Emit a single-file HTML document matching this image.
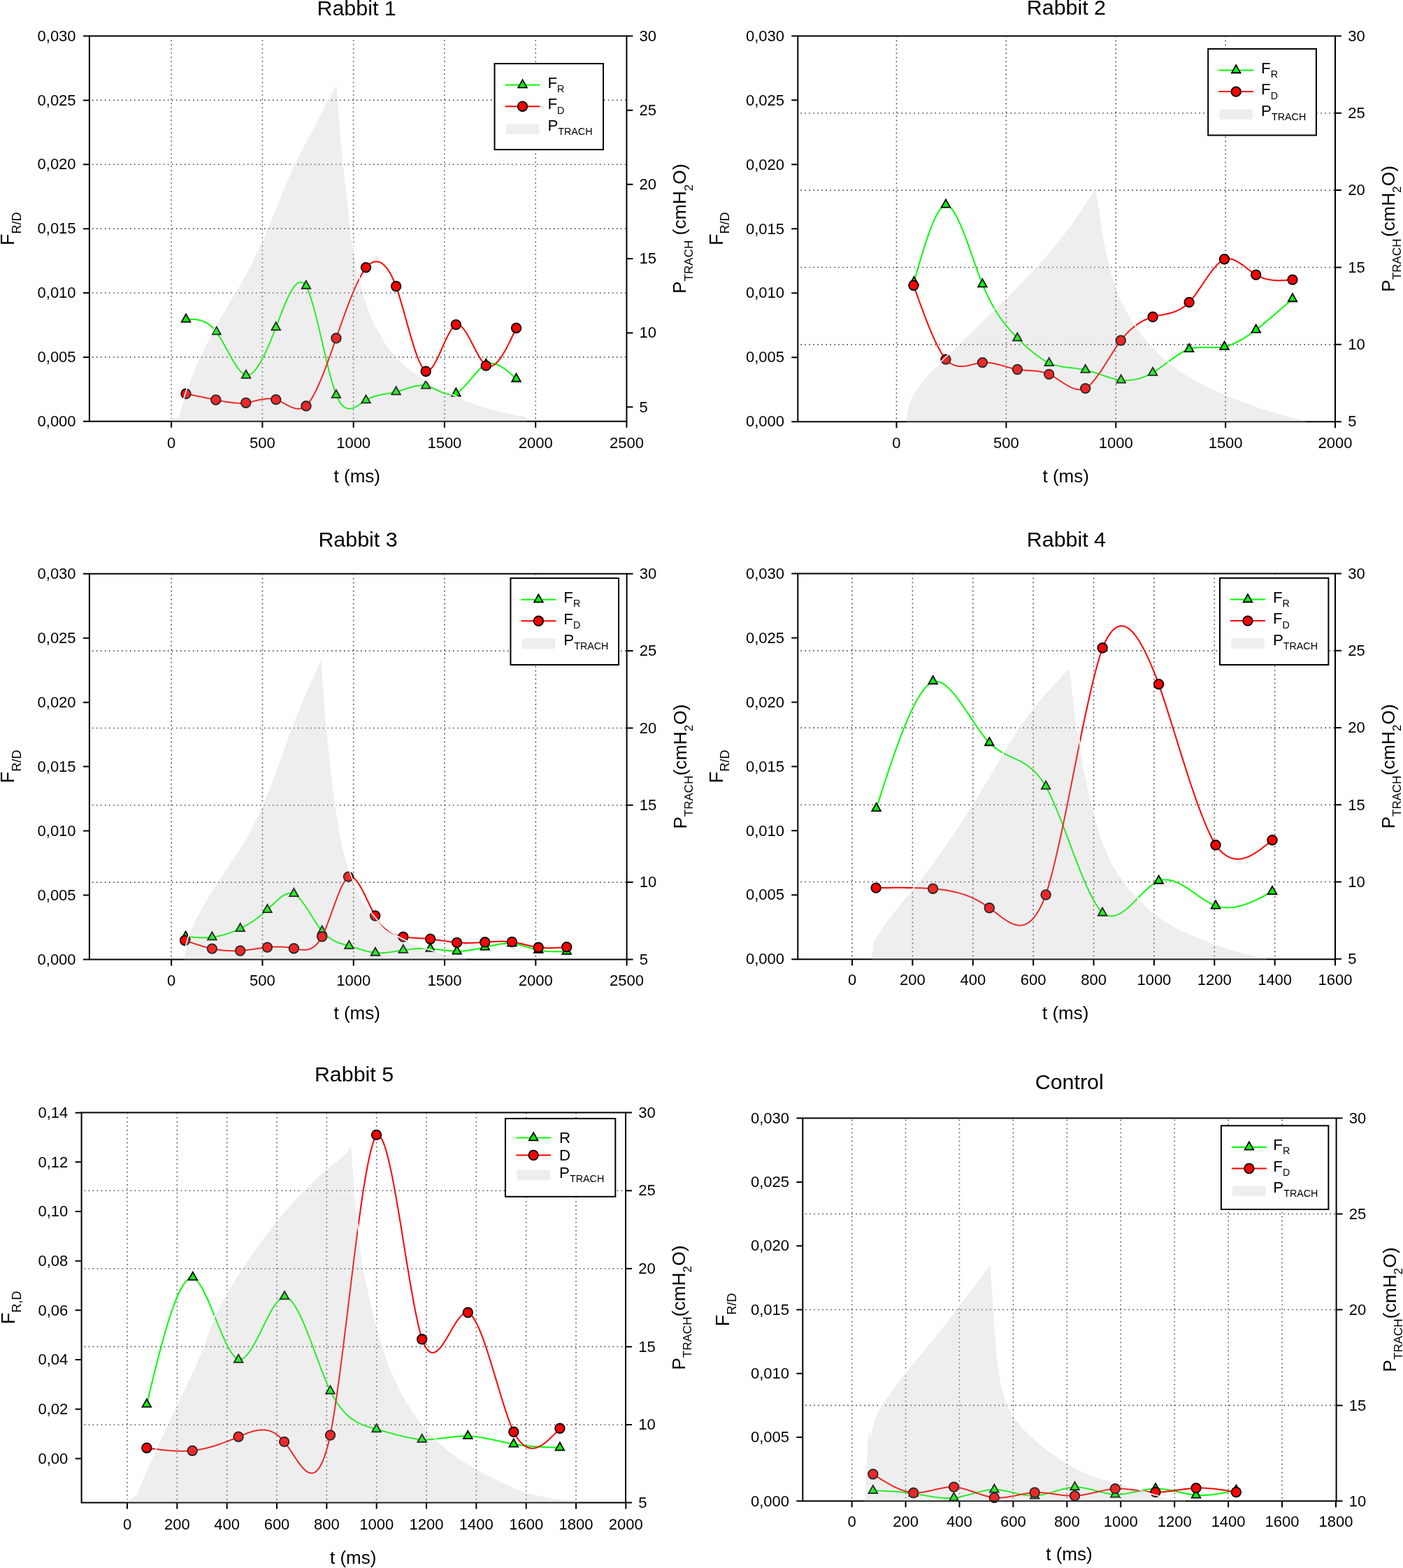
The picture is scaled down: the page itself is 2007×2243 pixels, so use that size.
<!DOCTYPE html>
<html><head><meta charset="utf-8"><title>Rabbit F_R/F_D and P_TRACH</title>
<style>html,body{margin:0;padding:0;background:#fff;}svg{display:block;}</style>
</head><body>
<svg xmlns="http://www.w3.org/2000/svg" width="2007" height="2243" viewBox="0 0 2007 2243" font-family='"Liberation Sans", Arial, Helvetica, sans-serif' fill="#000">
<rect width="100%" height="100%" fill="#fff"/>
<path d="M245.13 598.8 V52.5 M375.38 598.8 V52.5 M505.64 598.8 V52.5 M635.89 598.8 V52.5 M766.15 598.8 V52.5 M131.9 510.92 H895.4 M131.9 419.03 H895.4 M131.9 327.15 H895.4 M131.9 235.27 H895.4 M131.9 143.38 H895.4" stroke="#4a4a4a" stroke-width="1.6" stroke-dasharray="1.6 4.4" fill="none"/>
<path d="M266 456.8 L267.81 456.75 L269.62 456.71 L271.44 456.69 L273.25 456.69 L275.06 456.73 L276.88 456.8 L278.69 456.93 L280.5 457.11 L282.31 457.36 L284.12 457.69 L285.94 458.09 L287.75 458.59 L289.56 459.18 L291.38 459.88 L293.19 460.7 L295 461.64 L296.81 462.71 L298.62 463.93 L300.44 465.29 L302.25 466.8 L304.06 468.49 L305.88 470.34 L307.69 472.38 L309.5 474.6 L311.27 477.15 L313.04 479.86 L314.81 482.72 L316.58 485.7 L318.35 488.78 L320.12 491.94 L321.9 495.16 L323.67 498.41 L325.44 501.67 L327.21 504.92 L328.98 508.15 L330.75 511.31 L332.52 514.4 L334.29 517.4 L336.06 520.27 L337.83 523 L339.6 525.57 L341.38 527.95 L343.15 530.13 L344.92 532.07 L346.69 533.76 L348.46 535.18 L350.23 536.3 L352 537.1 L353.78 537.02 L355.56 536.61 L357.34 535.88 L359.12 534.84 L360.9 533.51 L362.68 531.9 L364.45 530.01 L366.23 527.87 L368.01 525.48 L369.79 522.85 L371.57 520 L373.35 516.95 L375.13 513.69 L376.91 510.25 L378.69 506.64 L380.47 502.86 L382.25 498.94 L384.02 494.87 L385.8 490.69 L387.58 486.39 L389.36 481.99 L391.14 477.5 L392.92 472.93 L394.7 468.3 L396.5 463.61 L398.3 458.89 L400.1 454.18 L401.9 449.51 L403.7 444.9 L405.5 440.38 L407.3 435.99 L409.1 431.75 L410.9 427.7 L412.7 423.86 L414.5 420.26 L416.3 416.93 L418.1 413.91 L419.9 411.21 L421.7 408.88 L423.5 406.94 L425.3 405.41 L427.1 404.34 L428.9 403.75 L430.7 403.66 L432.5 404.11 L434.3 405.13 L436.1 406.75 L437.9 409 L439.69 412.77 L441.48 417.14 L443.27 422.07 L445.07 427.5 L446.86 433.37 L448.65 439.66 L450.44 446.29 L452.23 453.23 L454.02 460.43 L455.82 467.83 L457.61 475.38 L459.4 483.04 L461.19 490.76 L462.98 498.48 L464.77 506.16 L466.57 513.75 L468.36 521.2 L470.15 528.45 L471.94 535.47 L473.73 542.19 L475.52 548.58 L477.32 554.57 L479.11 560.13 L480.9 565.2 L482.67 569.09 L484.45 572.48 L486.22 575.39 L488 577.85 L489.77 579.89 L491.55 581.53 L493.32 582.8 L495.1 583.72 L496.88 584.32 L498.65 584.63 L500.43 584.67 L502.2 584.47 L503.97 584.06 L505.75 583.45 L507.52 582.68 L509.3 581.78 L511.07 580.76 L512.85 579.66 L514.62 578.49 L516.4 577.3 L518.17 576.09 L519.95 574.91 L521.73 573.77 L523.5 572.7 L525.3 571.63 L527.09 570.65 L528.89 569.76 L530.68 568.95 L532.48 568.22 L534.27 567.55 L536.07 566.95 L537.87 566.4 L539.66 565.91 L541.46 565.46 L543.25 565.05 L545.05 564.68 L546.85 564.33 L548.64 564 L550.44 563.69 L552.23 563.39 L554.03 563.09 L555.83 562.79 L557.62 562.48 L559.42 562.16 L561.21 561.81 L563.01 561.44 L564.8 561.04 L566.6 560.6 L568.38 560.14 L570.15 559.63 L571.93 559.1 L573.7 558.54 L575.48 557.97 L577.25 557.38 L579.02 556.79 L580.8 556.19 L582.58 555.61 L584.35 555.03 L586.12 554.48 L587.9 553.95 L589.68 553.45 L591.45 552.99 L593.23 552.57 L595 552.2 L596.78 551.89 L598.55 551.64 L600.33 551.46 L602.1 551.35 L603.88 551.33 L605.65 551.39 L607.43 551.54 L609.2 551.8 L611 552.25 L612.79 552.79 L614.59 553.41 L616.38 554.1 L618.18 554.85 L619.98 555.65 L621.77 556.47 L623.57 557.32 L625.36 558.17 L627.16 559.01 L628.95 559.83 L630.75 560.62 L632.55 561.36 L634.34 562.04 L636.14 562.65 L637.93 563.18 L639.73 563.61 L641.52 563.93 L643.32 564.12 L645.12 564.18 L646.91 564.09 L648.71 563.84 L650.5 563.41 L652.3 562.8 L654.09 561.78 L655.88 560.57 L657.66 559.19 L659.45 557.67 L661.24 556.02 L663.02 554.24 L664.81 552.37 L666.6 550.42 L668.39 548.39 L670.17 546.32 L671.96 544.21 L673.75 542.08 L675.54 539.95 L677.33 537.84 L679.11 535.75 L680.9 533.72 L682.69 531.74 L684.48 529.85 L686.26 528.06 L688.05 526.37 L689.84 524.82 L691.62 523.41 L693.41 522.17 L695.2 521.1 L697 520.48 L698.81 520.05 L700.61 519.8 L702.42 519.73 L704.22 519.82 L706.03 520.07 L707.83 520.46 L709.63 521 L711.44 521.67 L713.24 522.47 L715.05 523.38 L716.85 524.4 L718.65 525.52 L720.46 526.72 L722.26 528.02 L724.07 529.38 L725.87 530.81 L727.67 532.3 L729.48 533.84 L731.28 535.43 L733.09 537.04 L734.89 538.68 L736.7 540.34 L738.5 542" stroke="#00ff00" stroke-width="2.0" fill="none" stroke-linejoin="round"/>
<polygon points="266,449.33 259.7,460.53 272.3,460.53" fill="#00ff00" stroke="#000" stroke-width="1.8"/>
<polygon points="309.5,467.13 303.2,478.33 315.8,478.33" fill="#00ff00" stroke="#000" stroke-width="1.8"/>
<polygon points="352,529.63 345.7,540.83 358.3,540.83" fill="#00ff00" stroke="#000" stroke-width="1.8"/>
<polygon points="394.7,460.83 388.4,472.03 401,472.03" fill="#00ff00" stroke="#000" stroke-width="1.8"/>
<polygon points="437.9,401.53 431.6,412.73 444.2,412.73" fill="#00ff00" stroke="#000" stroke-width="1.8"/>
<polygon points="480.9,557.73 474.6,568.93 487.2,568.93" fill="#00ff00" stroke="#000" stroke-width="1.8"/>
<polygon points="523.5,565.23 517.2,576.43 529.8,576.43" fill="#00ff00" stroke="#000" stroke-width="1.8"/>
<polygon points="566.6,553.13 560.3,564.33 572.9,564.33" fill="#00ff00" stroke="#000" stroke-width="1.8"/>
<polygon points="609.2,544.33 602.9,555.53 615.5,555.53" fill="#00ff00" stroke="#000" stroke-width="1.8"/>
<polygon points="652.3,555.33 646,566.53 658.6,566.53" fill="#00ff00" stroke="#000" stroke-width="1.8"/>
<polygon points="695.2,513.63 688.9,524.83 701.5,524.83" fill="#00ff00" stroke="#000" stroke-width="1.8"/>
<polygon points="738.5,534.53 732.2,545.73 744.8,545.73" fill="#00ff00" stroke="#000" stroke-width="1.8"/>
<path d="M266 563.3 L267.78 563.66 L269.57 564.01 L271.35 564.37 L273.13 564.72 L274.92 565.08 L276.7 565.44 L278.48 565.79 L280.27 566.15 L282.05 566.51 L283.83 566.87 L285.62 567.23 L287.4 567.59 L289.18 567.95 L290.97 568.31 L292.75 568.67 L294.53 569.04 L296.32 569.4 L298.1 569.77 L299.88 570.14 L301.67 570.51 L303.45 570.88 L305.23 571.25 L307.02 571.62 L308.8 572 L310.59 572.36 L312.38 572.72 L314.16 573.07 L315.95 573.43 L317.74 573.77 L319.52 574.11 L321.31 574.43 L323.1 574.74 L324.89 575.04 L326.68 575.32 L328.46 575.58 L330.25 575.82 L332.04 576.03 L333.82 576.22 L335.61 576.38 L337.4 576.51 L339.19 576.61 L340.98 576.67 L342.76 576.69 L344.55 576.68 L346.34 576.63 L348.12 576.53 L349.91 576.39 L351.7 576.2 L353.49 575.93 L355.28 575.61 L357.07 575.25 L358.87 574.87 L360.66 574.47 L362.45 574.05 L364.24 573.62 L366.03 573.19 L367.82 572.76 L369.62 572.35 L371.41 571.95 L373.2 571.58 L374.99 571.24 L376.78 570.94 L378.57 570.69 L380.37 570.49 L382.16 570.35 L383.95 570.27 L385.74 570.27 L387.53 570.35 L389.32 570.51 L391.12 570.77 L392.91 571.13 L394.7 571.6 L396.5 572.24 L398.3 572.97 L400.1 573.79 L401.9 574.68 L403.7 575.61 L405.5 576.58 L407.3 577.56 L409.1 578.54 L410.9 579.51 L412.7 580.44 L414.5 581.33 L416.3 582.14 L418.1 582.88 L419.9 583.51 L421.7 584.03 L423.5 584.42 L425.3 584.66 L427.1 584.74 L428.9 584.63 L430.7 584.33 L432.5 583.81 L434.3 583.06 L436.1 582.06 L437.9 580.8 L439.69 578.83 L441.48 576.59 L443.27 574.1 L445.07 571.37 L446.86 568.4 L448.65 565.22 L450.44 561.83 L452.23 558.24 L454.02 554.47 L455.82 550.53 L457.61 546.42 L459.4 542.17 L461.19 537.78 L462.98 533.27 L464.77 528.64 L466.57 523.91 L468.36 519.09 L470.15 514.19 L471.94 509.22 L473.73 504.2 L475.52 499.14 L477.32 494.04 L479.11 488.92 L480.9 483.8 L482.67 478.71 L484.45 473.62 L486.22 468.56 L488 463.53 L489.77 458.53 L491.55 453.59 L493.32 448.7 L495.1 443.87 L496.88 439.12 L498.65 434.45 L500.43 429.87 L502.2 425.39 L503.97 421.02 L505.75 416.77 L507.52 412.64 L509.3 408.64 L511.07 404.79 L512.85 401.1 L514.62 397.56 L516.4 394.19 L518.17 391.01 L519.95 388.01 L521.73 385.2 L523.5 382.6 L525.3 380.72 L527.09 379.07 L528.89 377.65 L530.68 376.46 L532.48 375.51 L534.27 374.8 L536.07 374.34 L537.87 374.14 L539.66 374.19 L541.46 374.51 L543.25 375.1 L545.05 375.96 L546.85 377.1 L548.64 378.53 L550.44 380.24 L552.23 382.25 L554.03 384.55 L555.83 387.16 L557.62 390.08 L559.42 393.32 L561.21 396.87 L563.01 400.75 L564.8 404.96 L566.6 409.5 L568.38 414.71 L570.15 420.21 L571.93 425.96 L573.7 431.92 L575.48 438.05 L577.25 444.3 L579.02 450.63 L580.8 457.01 L582.58 463.39 L584.35 469.73 L586.12 475.99 L587.9 482.12 L589.68 488.1 L591.45 493.87 L593.23 499.39 L595 504.62 L596.78 509.53 L598.55 514.06 L600.33 518.19 L602.1 521.86 L603.88 525.04 L605.65 527.68 L607.43 529.75 L609.2 531.2 L611 531.22 L612.79 530.62 L614.59 529.45 L616.38 527.75 L618.18 525.6 L619.98 523.02 L621.77 520.08 L623.57 516.83 L625.36 513.31 L627.16 509.59 L628.95 505.71 L630.75 501.72 L632.55 497.68 L634.34 493.64 L636.14 489.64 L637.93 485.74 L639.73 482 L641.52 478.46 L643.32 475.18 L645.12 472.2 L646.91 469.58 L648.71 467.38 L650.5 465.63 L652.3 464.4 L654.09 464.24 L655.88 464.6 L657.66 465.45 L659.45 466.73 L661.24 468.41 L663.02 470.45 L664.81 472.81 L666.6 475.45 L668.39 478.34 L670.17 481.42 L671.96 484.66 L673.75 488.02 L675.54 491.46 L677.33 494.94 L679.11 498.42 L680.9 501.86 L682.69 505.21 L684.48 508.45 L686.26 511.53 L688.05 514.4 L689.84 517.04 L691.62 519.39 L693.41 521.43 L695.2 523.1 L697 523.92 L698.81 524.35 L700.61 524.4 L702.42 524.1 L704.22 523.46 L706.03 522.49 L707.83 521.22 L709.63 519.65 L711.44 517.82 L713.24 515.73 L715.05 513.4 L716.85 510.85 L718.65 508.1 L720.46 505.16 L722.26 502.05 L724.07 498.78 L725.87 495.38 L727.67 491.86 L729.48 488.24 L731.28 484.54 L733.09 480.76 L734.89 476.94 L736.7 473.08 L738.5 469.2" stroke="#ff0000" stroke-width="2.0" fill="none" stroke-linejoin="round"/>
<circle cx="266" cy="563.3" r="6.8" fill="#ff0000" stroke="#000" stroke-width="1.8"/>
<circle cx="308.8" cy="572" r="6.8" fill="#ff0000" stroke="#000" stroke-width="1.8"/>
<circle cx="351.7" cy="576.2" r="6.8" fill="#ff0000" stroke="#000" stroke-width="1.8"/>
<circle cx="394.7" cy="571.6" r="6.8" fill="#ff0000" stroke="#000" stroke-width="1.8"/>
<circle cx="437.9" cy="580.8" r="6.8" fill="#ff0000" stroke="#000" stroke-width="1.8"/>
<circle cx="480.9" cy="483.8" r="6.8" fill="#ff0000" stroke="#000" stroke-width="1.8"/>
<circle cx="523.5" cy="382.6" r="6.8" fill="#ff0000" stroke="#000" stroke-width="1.8"/>
<circle cx="566.6" cy="409.5" r="6.8" fill="#ff0000" stroke="#000" stroke-width="1.8"/>
<circle cx="609.2" cy="531.2" r="6.8" fill="#ff0000" stroke="#000" stroke-width="1.8"/>
<circle cx="652.3" cy="464.4" r="6.8" fill="#ff0000" stroke="#000" stroke-width="1.8"/>
<circle cx="695.2" cy="523.1" r="6.8" fill="#ff0000" stroke="#000" stroke-width="1.8"/>
<circle cx="738.5" cy="469.2" r="6.8" fill="#ff0000" stroke="#000" stroke-width="1.8"/>
<path d="M127.9 51.5 H896.4 M127.9 602.8 H896.4 M127.9 51.5 V602.8 M896.4 51.5 V602.8" stroke="#000" stroke-width="2.0" fill="none" stroke-linecap="square"/>
<path d="M245.13 602.8 V611.8 M375.38 602.8 V611.8 M505.64 602.8 V611.8 M635.89 602.8 V611.8 M766.15 602.8 V611.8 M896.4 602.8 V611.8 M118.9 602.8 H127.9 M118.9 510.92 H127.9 M118.9 419.03 H127.9 M118.9 327.15 H127.9 M118.9 235.27 H127.9 M118.9 143.38 H127.9 M118.9 51.5 H127.9 M896.4 582.3 H905.4 M896.4 476.14 H905.4 M896.4 369.98 H905.4 M896.4 263.82 H905.4 M896.4 157.66 H905.4 M896.4 51.5 H905.4" stroke="#000" stroke-width="2.0" fill="none"/>
<polygon points="245,603.8 245,598.3 254.6,596.5 254.83,596.12 255.14,595.65 255.51,595.06 255.92,594.34 256.35,593.44 256.78,592.35 257.2,591.05 257.63,589.55 258.09,587.89 258.56,586.08 259.08,584.15 259.62,582.13 260.21,579.98 260.81,577.69 261.45,575.28 262.13,572.77 262.85,570.18 263.62,567.55 264.45,564.85 265.32,562.05 266.23,559.18 267.19,556.25 268.2,553.28 269.25,550.3 270.36,547.27 271.53,544.19 272.74,541.06 273.99,537.92 275.25,534.8 276.52,531.7 277.81,528.64 279.11,525.59 280.43,522.55 281.77,519.52 283.12,516.49 284.5,513.45 285.89,510.42 287.29,507.4 288.7,504.38 290.15,501.35 291.63,498.3 293.15,495.23 294.73,492.12 296.35,488.99 298,485.84 299.69,482.68 301.39,479.5 303.1,476.33 304.82,473.14 306.57,469.93 308.34,466.72 310.12,463.5 311.91,460.29 313.7,457.08 315.51,453.84 317.35,450.58 319.19,447.33 321.04,444.09 322.86,440.92 324.65,437.83 326.42,434.81 328.17,431.86 329.9,428.97 331.62,426.13 333.3,423.33 334.95,420.58 336.55,417.91 338.09,415.33 339.61,412.81 341.12,410.28 342.65,407.69 344.22,405 345.84,402.21 347.48,399.36 349.15,396.46 350.82,393.51 352.49,390.49 354.15,387.42 355.82,384.28 357.5,381.05 359.18,377.76 360.85,374.45 362.5,371.14 364.1,367.85 365.67,364.55 367.23,361.21 368.75,357.86 370.24,354.56 371.69,351.35 373.08,348.28 374.39,345.38 375.63,342.63 376.83,339.97 378.01,337.34 379.19,334.67 380.4,331.9 381.59,329.13 382.74,326.43 383.9,323.69 385.1,320.8 386.4,317.65 387.85,314.12 389.46,310.17 391.2,305.86 393.04,301.29 394.95,296.54 396.89,291.73 398.85,286.92 400.84,282.05 402.89,277.01 404.98,271.89 407.09,266.78 409.19,261.78 411.25,256.97 413.27,252.39 415.25,247.94 417.23,243.61 419.22,239.33 421.23,235.08 423.3,230.8 425.41,226.53 427.56,222.29 429.74,218.08 431.94,213.87 434.17,209.62 436.4,205.33 438.65,200.99 440.9,196.64 443.18,192.26 445.48,187.84 447.81,183.36 450.17,178.82 452.56,174.24 454.95,169.63 457.37,164.96 459.83,160.22 462.36,155.38 464.95,150.42 467.83,144.95 471.04,138.89 474.3,132.74 477.35,126.98 479.94,122.1 481.8,118.6 482.04,121.47 482.36,125.35 482.75,129.98 483.18,135.13 483.61,140.54 484.03,145.95 484.43,151.51 484.84,157.45 485.25,163.64 485.68,169.98 486.13,176.33 486.6,182.6 487.09,188.88 487.6,195.29 488.13,201.72 488.67,208.07 489.22,214.23 489.78,220.1 490.35,225.64 490.94,230.93 491.53,236.03 492.13,241.01 492.73,245.92 493.3,250.85 493.86,255.75 494.41,260.57 494.95,265.33 495.48,270.06 496.01,274.77 496.53,279.5 497.03,284.27 497.53,289.08 498.02,293.88 498.5,298.62 498.99,303.26 499.47,307.75 499.96,312.08 500.45,316.3 500.93,320.41 501.42,324.43 501.92,328.39 502.43,332.3 502.94,336.14 503.46,339.9 503.98,343.59 504.51,347.23 505.06,350.84 505.62,354.43 506.21,358.02 506.81,361.6 507.42,365.15 508.04,368.64 508.67,372.04 509.3,375.33 509.94,378.47 510.58,381.5 511.23,384.44 511.89,387.32 512.55,390.16 513.23,393 513.9,395.79 514.57,398.49 515.25,401.16 515.94,403.84 516.67,406.59 517.43,409.45 518.22,412.45 519.05,415.55 519.9,418.71 520.77,421.9 521.68,425.09 522.6,428.22 523.55,431.36 524.53,434.52 525.53,437.68 526.56,440.78 527.6,443.8 528.65,446.68 529.7,449.38 530.75,451.95 531.82,454.42 532.92,456.85 534.07,459.29 535.27,461.8 536.54,464.36 537.85,466.92 539.2,469.49 540.61,472.08 542.07,474.72 543.6,477.4 545.19,480.16 546.84,483 548.55,485.88 550.31,488.75 552.12,491.58 553.98,494.32 555.88,497 557.84,499.64 559.84,502.24 561.89,504.78 563.96,507.25 566.05,509.62 568.18,511.92 570.35,514.14 572.55,516.28 574.76,518.36 576.96,520.36 579.15,522.3 581.27,524.13 583.34,525.85 585.41,527.5 587.52,529.13 589.72,530.77 592.08,532.47 594.53,534.22 597.05,535.97 599.67,537.74 602.41,539.54 605.32,541.4 608.43,543.33 611.78,545.35 615.36,547.48 619.11,549.66 622.95,551.85 626.82,554 630.65,556.08 634.47,558.09 638.35,560.09 642.25,562.06 646.15,563.97 650.02,565.81 653.82,567.55 657.56,569.19 661.24,570.75 664.89,572.23 668.52,573.65 672.15,575.02 675.8,576.35 679.47,577.64 683.13,578.88 686.8,580.06 690.47,581.21 694.13,582.32 697.8,583.4 701.5,584.46 705.23,585.5 708.96,586.5 712.65,587.46 716.28,588.37 719.8,589.23 723.25,590.03 726.67,590.79 730.02,591.5 733.26,592.16 736.37,592.77 739.3,593.33 742.17,593.84 745.04,594.3 747.77,594.72 750.23,595.08 752.28,595.37 753.8,595.6 753.8,603.8" fill="#b3b3b3" fill-opacity="0.2235"/>
<polyline points="245,598.3 254.6,596.5 254.83,596.12 255.14,595.65 255.51,595.06 255.92,594.34 256.35,593.44 256.78,592.35 257.2,591.05 257.63,589.55 258.09,587.89 258.56,586.08 259.08,584.15 259.62,582.13 260.21,579.98 260.81,577.69 261.45,575.28 262.13,572.77 262.85,570.18 263.62,567.55 264.45,564.85 265.32,562.05 266.23,559.18 267.19,556.25 268.2,553.28 269.25,550.3 270.36,547.27 271.53,544.19 272.74,541.06 273.99,537.92 275.25,534.8 276.52,531.7 277.81,528.64 279.11,525.59 280.43,522.55 281.77,519.52 283.12,516.49 284.5,513.45 285.89,510.42 287.29,507.4 288.7,504.38 290.15,501.35 291.63,498.3 293.15,495.23 294.73,492.12 296.35,488.99 298,485.84 299.69,482.68 301.39,479.5 303.1,476.33 304.82,473.14 306.57,469.93 308.34,466.72 310.12,463.5 311.91,460.29 313.7,457.08 315.51,453.84 317.35,450.58 319.19,447.33 321.04,444.09 322.86,440.92 324.65,437.83 326.42,434.81 328.17,431.86 329.9,428.97 331.62,426.13 333.3,423.33 334.95,420.58 336.55,417.91 338.09,415.33 339.61,412.81 341.12,410.28 342.65,407.69 344.22,405 345.84,402.21 347.48,399.36 349.15,396.46 350.82,393.51 352.49,390.49 354.15,387.42 355.82,384.28 357.5,381.05 359.18,377.76 360.85,374.45 362.5,371.14 364.1,367.85 365.67,364.55 367.23,361.21 368.75,357.86 370.24,354.56 371.69,351.35 373.08,348.28 374.39,345.38 375.63,342.63 376.83,339.97 378.01,337.34 379.19,334.67 380.4,331.9 381.59,329.13 382.74,326.43 383.9,323.69 385.1,320.8 386.4,317.65 387.85,314.12 389.46,310.17 391.2,305.86 393.04,301.29 394.95,296.54 396.89,291.73 398.85,286.92 400.84,282.05 402.89,277.01 404.98,271.89 407.09,266.78 409.19,261.78 411.25,256.97 413.27,252.39 415.25,247.94 417.23,243.61 419.22,239.33 421.23,235.08 423.3,230.8 425.41,226.53 427.56,222.29 429.74,218.08 431.94,213.87 434.17,209.62 436.4,205.33 438.65,200.99 440.9,196.64 443.18,192.26 445.48,187.84 447.81,183.36 450.17,178.82 452.56,174.24 454.95,169.63 457.37,164.96 459.83,160.22 462.36,155.38 464.95,150.42 467.83,144.95 471.04,138.89 474.3,132.74 477.35,126.98 479.94,122.1 481.8,118.6 482.04,121.47 482.36,125.35 482.75,129.98 483.18,135.13 483.61,140.54 484.03,145.95 484.43,151.51 484.84,157.45 485.25,163.64 485.68,169.98 486.13,176.33 486.6,182.6 487.09,188.88 487.6,195.29 488.13,201.72 488.67,208.07 489.22,214.23 489.78,220.1 490.35,225.64 490.94,230.93 491.53,236.03 492.13,241.01 492.73,245.92 493.3,250.85 493.86,255.75 494.41,260.57 494.95,265.33 495.48,270.06 496.01,274.77 496.53,279.5 497.03,284.27 497.53,289.08 498.02,293.88 498.5,298.62 498.99,303.26 499.47,307.75 499.96,312.08 500.45,316.3 500.93,320.41 501.42,324.43 501.92,328.39 502.43,332.3 502.94,336.14 503.46,339.9 503.98,343.59 504.51,347.23 505.06,350.84 505.62,354.43 506.21,358.02 506.81,361.6 507.42,365.15 508.04,368.64 508.67,372.04 509.3,375.33 509.94,378.47 510.58,381.5 511.23,384.44 511.89,387.32 512.55,390.16 513.23,393 513.9,395.79 514.57,398.49 515.25,401.16 515.94,403.84 516.67,406.59 517.43,409.45 518.22,412.45 519.05,415.55 519.9,418.71 520.77,421.9 521.68,425.09 522.6,428.22 523.55,431.36 524.53,434.52 525.53,437.68 526.56,440.78 527.6,443.8 528.65,446.68 529.7,449.38 530.75,451.95 531.82,454.42 532.92,456.85 534.07,459.29 535.27,461.8 536.54,464.36 537.85,466.92 539.2,469.49 540.61,472.08 542.07,474.72 543.6,477.4 545.19,480.16 546.84,483 548.55,485.88 550.31,488.75 552.12,491.58 553.98,494.32 555.88,497 557.84,499.64 559.84,502.24 561.89,504.78 563.96,507.25 566.05,509.62 568.18,511.92 570.35,514.14 572.55,516.28 574.76,518.36 576.96,520.36 579.15,522.3 581.27,524.13 583.34,525.85 585.41,527.5 587.52,529.13 589.72,530.77 592.08,532.47 594.53,534.22 597.05,535.97 599.67,537.74 602.41,539.54 605.32,541.4 608.43,543.33 611.78,545.35 615.36,547.48 619.11,549.66 622.95,551.85 626.82,554 630.65,556.08 634.47,558.09 638.35,560.09 642.25,562.06 646.15,563.97 650.02,565.81 653.82,567.55 657.56,569.19 661.24,570.75 664.89,572.23 668.52,573.65 672.15,575.02 675.8,576.35 679.47,577.64 683.13,578.88 686.8,580.06 690.47,581.21 694.13,582.32 697.8,583.4 701.5,584.46 705.23,585.5 708.96,586.5 712.65,587.46 716.28,588.37 719.8,589.23 723.25,590.03 726.67,590.79 730.02,591.5 733.26,592.16 736.37,592.77 739.3,593.33 742.17,593.84 745.04,594.3 747.77,594.72 750.23,595.08 752.28,595.37 753.8,595.6" fill="none" stroke="#fff" stroke-width="1.6"/>
<text x="245.13" y="641.3" font-size="22" text-anchor="middle">0</text>
<text x="375.38" y="641.3" font-size="22" text-anchor="middle">500</text>
<text x="505.64" y="641.3" font-size="22" text-anchor="middle">1000</text>
<text x="635.89" y="641.3" font-size="22" text-anchor="middle">1500</text>
<text x="766.15" y="641.3" font-size="22" text-anchor="middle">2000</text>
<text x="896.4" y="641.3" font-size="22" text-anchor="middle">2500</text>
<text x="108.6" y="610" font-size="22" text-anchor="end">0,000</text>
<text x="108.6" y="518.12" font-size="22" text-anchor="end">0,005</text>
<text x="108.6" y="426.23" font-size="22" text-anchor="end">0,010</text>
<text x="108.6" y="334.35" font-size="22" text-anchor="end">0,015</text>
<text x="108.6" y="242.47" font-size="22" text-anchor="end">0,020</text>
<text x="108.6" y="150.58" font-size="22" text-anchor="end">0,025</text>
<text x="108.6" y="58.7" font-size="22" text-anchor="end">0,030</text>
<text x="914.6" y="589.5" font-size="22" text-anchor="start">5</text>
<text x="914.6" y="483.34" font-size="22" text-anchor="start">10</text>
<text x="914.6" y="377.18" font-size="22" text-anchor="start">15</text>
<text x="914.6" y="271.02" font-size="22" text-anchor="start">20</text>
<text x="914.6" y="164.86" font-size="22" text-anchor="start">25</text>
<text x="914.6" y="58.7" font-size="22" text-anchor="start">30</text>
<text x="510.1" y="21.8" font-size="30.4" text-anchor="middle">Rabbit 1</text>
<text x="510.8" y="689.6" font-size="26" text-anchor="middle">t (ms)</text>
<text transform="translate(20.4 327.15) rotate(-90)" font-size="27" text-anchor="middle">F<tspan font-size="18" dy="9.6">R/D</tspan></text>
<text transform="translate(981.4 327.15) rotate(-90)" font-size="26.5" text-anchor="middle">P<tspan font-size="17" dy="9.3">TRACH</tspan><tspan dy="-9.3" dx="0"> (cmH</tspan><tspan font-size="17" dy="9.3">2</tspan><tspan dy="-9.3">O)</tspan></text>
<rect x="707.5" y="91" width="155.5" height="123" fill="#fff" stroke="#000" stroke-width="2"/>
<path d="M722.5 121.6 H772.5" stroke="#00ff00" stroke-width="2.0"/>
<polygon points="747.5,114.13 741.2,125.33 753.8,125.33" fill="#00ff00" stroke="#000" stroke-width="1.8"/>
<text x="783.4" y="125.8" font-size="22.3">F<tspan font-size="14.3" dy="6.3">R</tspan></text>
<path d="M722.5 152.2 H772.5" stroke="#ff0000" stroke-width="2.0"/>
<circle cx="747.5" cy="152.2" r="6.8" fill="#ff0000" stroke="#000" stroke-width="1.8"/>
<text x="783.4" y="156.4" font-size="22.3">F<tspan font-size="14.3" dy="6.3">D</tspan></text>
<rect x="723.7" y="177.3" width="47.6" height="14.6" fill="#b3b3b3" fill-opacity="0.2235"/>
<text x="783.4" y="186.8" font-size="22.3">P<tspan font-size="14.3" dy="6.3">TRACH</tspan></text>
<path d="M1282.49 599.2 V52.4 M1439.37 599.2 V52.4 M1596.24 599.2 V52.4 M1753.12 599.2 V52.4 M1145.3 492.84 H1909 M1145.3 382.48 H1909 M1145.3 272.12 H1909 M1145.3 161.76 H1909" stroke="#4a4a4a" stroke-width="1.6" stroke-dasharray="1.6 4.4" fill="none"/>
<path d="M1307.5 403.3 L1309.4 396.68 L1311.29 390.07 L1313.19 383.51 L1315.08 377.02 L1316.98 370.6 L1318.88 364.29 L1320.77 358.11 L1322.67 352.08 L1324.56 346.21 L1326.46 340.54 L1328.35 335.07 L1330.25 329.84 L1332.15 324.86 L1334.04 320.15 L1335.94 315.74 L1337.83 311.65 L1339.73 307.89 L1341.62 304.49 L1343.52 301.47 L1345.42 298.85 L1347.31 296.65 L1349.21 294.9 L1351.1 293.61 L1353 292.8 L1355.18 293.49 L1357.37 294.82 L1359.55 296.73 L1361.73 299.21 L1363.92 302.2 L1366.1 305.67 L1368.28 309.59 L1370.47 313.9 L1372.65 318.58 L1374.83 323.59 L1377.02 328.89 L1379.2 334.43 L1381.38 340.19 L1383.57 346.13 L1385.75 352.2 L1387.93 358.36 L1390.12 364.59 L1392.3 370.83 L1394.48 377.06 L1396.67 383.23 L1398.85 389.31 L1401.03 395.26 L1403.22 401.03 L1405.4 406.6 L1407.48 411.56 L1409.57 416.3 L1411.65 420.84 L1413.73 425.17 L1415.82 429.32 L1417.9 433.29 L1419.98 437.08 L1422.07 440.71 L1424.15 444.19 L1426.23 447.52 L1428.32 450.71 L1430.4 453.77 L1432.48 456.72 L1434.57 459.55 L1436.65 462.28 L1438.73 464.92 L1440.82 467.47 L1442.9 469.95 L1444.98 472.36 L1447.07 474.71 L1449.15 477.01 L1451.23 479.27 L1453.32 481.5 L1455.4 483.7 L1457.29 485.54 L1459.18 487.36 L1461.06 489.17 L1462.95 490.96 L1464.84 492.73 L1466.73 494.48 L1468.61 496.19 L1470.5 497.89 L1472.39 499.55 L1474.28 501.18 L1476.16 502.77 L1478.05 504.33 L1479.94 505.84 L1481.83 507.32 L1483.71 508.75 L1485.6 510.14 L1487.49 511.48 L1489.38 512.76 L1491.26 514 L1493.15 515.18 L1495.04 516.3 L1496.92 517.36 L1498.81 518.36 L1500.7 519.3 L1502.87 520.17 L1505.03 520.95 L1507.2 521.66 L1509.37 522.3 L1511.53 522.87 L1513.7 523.39 L1515.87 523.85 L1518.03 524.27 L1520.2 524.64 L1522.37 524.98 L1524.53 525.29 L1526.7 525.57 L1528.87 525.84 L1531.03 526.09 L1533.2 526.34 L1535.37 526.58 L1537.53 526.83 L1539.7 527.09 L1541.87 527.37 L1544.03 527.67 L1546.2 528 L1548.37 528.36 L1550.53 528.76 L1552.7 529.2 L1554.82 529.7 L1556.94 530.25 L1559.06 530.84 L1561.18 531.46 L1563.3 532.11 L1565.42 532.78 L1567.55 533.48 L1569.67 534.19 L1571.79 534.91 L1573.91 535.64 L1576.03 536.37 L1578.15 537.1 L1580.27 537.82 L1582.39 538.53 L1584.51 539.22 L1586.63 539.89 L1588.75 540.53 L1590.88 541.14 L1593 541.72 L1595.12 542.26 L1597.24 542.75 L1599.36 543.19 L1601.48 543.57 L1603.6 543.9 L1605.5 544.04 L1607.39 544.13 L1609.29 544.16 L1611.18 544.15 L1613.08 544.08 L1614.97 543.97 L1616.87 543.8 L1618.77 543.58 L1620.66 543.31 L1622.56 542.99 L1624.45 542.62 L1626.35 542.19 L1628.25 541.72 L1630.14 541.19 L1632.04 540.61 L1633.93 539.99 L1635.83 539.3 L1637.72 538.57 L1639.62 537.79 L1641.52 536.95 L1643.41 536.07 L1645.31 535.13 L1647.2 534.14 L1649.1 533.1 L1651.27 531.76 L1653.43 530.36 L1655.6 528.91 L1657.77 527.41 L1659.93 525.87 L1662.1 524.31 L1664.27 522.72 L1666.43 521.11 L1668.6 519.5 L1670.77 517.89 L1672.93 516.28 L1675.1 514.69 L1677.27 513.12 L1679.43 511.58 L1681.6 510.08 L1683.77 508.62 L1685.93 507.21 L1688.1 505.86 L1690.27 504.57 L1692.43 503.36 L1694.6 502.23 L1696.77 501.19 L1698.93 500.24 L1701.1 499.4 L1703.2 498.81 L1705.3 498.31 L1707.4 497.91 L1709.5 497.58 L1711.6 497.33 L1713.7 497.14 L1715.8 497.01 L1717.9 496.93 L1720 496.89 L1722.1 496.89 L1724.2 496.91 L1726.3 496.95 L1728.4 497 L1730.5 497.06 L1732.6 497.11 L1734.7 497.15 L1736.8 497.17 L1738.9 497.16 L1741 497.12 L1743.1 497.03 L1745.2 496.89 L1747.3 496.7 L1749.4 496.44 L1751.5 496.1 L1753.38 495.64 L1755.27 495.12 L1757.15 494.54 L1759.03 493.89 L1760.92 493.19 L1762.8 492.44 L1764.68 491.63 L1766.57 490.77 L1768.45 489.86 L1770.33 488.9 L1772.22 487.9 L1774.1 486.86 L1775.98 485.78 L1777.87 484.66 L1779.75 483.5 L1781.63 482.31 L1783.52 481.09 L1785.4 479.83 L1787.28 478.55 L1789.17 477.24 L1791.05 475.91 L1792.93 474.56 L1794.82 473.19 L1796.7 471.8 L1798.88 470.11 L1801.06 468.39 L1803.24 466.66 L1805.42 464.91 L1807.6 463.15 L1809.78 461.36 L1811.95 459.57 L1814.13 457.75 L1816.31 455.93 L1818.49 454.09 L1820.67 452.24 L1822.85 450.38 L1825.03 448.51 L1827.21 446.63 L1829.39 444.74 L1831.57 442.84 L1833.75 440.94 L1835.92 439.03 L1838.1 437.12 L1840.28 435.2 L1842.46 433.28 L1844.64 431.35 L1846.82 429.43 L1849 427.5" stroke="#00ff00" stroke-width="2.0" fill="none" stroke-linejoin="round"/>
<polygon points="1307.5,395.83 1301.2,407.03 1313.8,407.03" fill="#00ff00" stroke="#000" stroke-width="1.8"/>
<polygon points="1353,285.33 1346.7,296.53 1359.3,296.53" fill="#00ff00" stroke="#000" stroke-width="1.8"/>
<polygon points="1405.4,399.13 1399.1,410.33 1411.7,410.33" fill="#00ff00" stroke="#000" stroke-width="1.8"/>
<polygon points="1455.4,476.23 1449.1,487.43 1461.7,487.43" fill="#00ff00" stroke="#000" stroke-width="1.8"/>
<polygon points="1500.7,511.83 1494.4,523.03 1507,523.03" fill="#00ff00" stroke="#000" stroke-width="1.8"/>
<polygon points="1552.7,521.73 1546.4,532.93 1559,532.93" fill="#00ff00" stroke="#000" stroke-width="1.8"/>
<polygon points="1603.6,536.43 1597.3,547.63 1609.9,547.63" fill="#00ff00" stroke="#000" stroke-width="1.8"/>
<polygon points="1649.1,525.63 1642.8,536.83 1655.4,536.83" fill="#00ff00" stroke="#000" stroke-width="1.8"/>
<polygon points="1701.1,491.93 1694.8,503.13 1707.4,503.13" fill="#00ff00" stroke="#000" stroke-width="1.8"/>
<polygon points="1751.5,488.63 1745.2,499.83 1757.8,499.83" fill="#00ff00" stroke="#000" stroke-width="1.8"/>
<polygon points="1796.7,464.33 1790.4,475.53 1803,475.53" fill="#00ff00" stroke="#000" stroke-width="1.8"/>
<polygon points="1849,420.03 1842.7,431.23 1855.3,431.23" fill="#00ff00" stroke="#000" stroke-width="1.8"/>
<path d="M1306.9 408.2 L1308.82 413.6 L1310.74 418.98 L1312.66 424.35 L1314.58 429.69 L1316.5 434.98 L1318.43 440.22 L1320.35 445.4 L1322.27 450.51 L1324.19 455.54 L1326.11 460.48 L1328.03 465.31 L1329.95 470.03 L1331.87 474.62 L1333.79 479.08 L1335.71 483.4 L1337.63 487.57 L1339.55 491.57 L1341.47 495.39 L1343.4 499.03 L1345.32 502.48 L1347.24 505.72 L1349.16 508.74 L1351.08 511.54 L1353 514.1 L1355.18 516.23 L1357.37 518.07 L1359.55 519.62 L1361.73 520.91 L1363.92 521.94 L1366.1 522.75 L1368.28 523.35 L1370.47 523.76 L1372.65 523.99 L1374.83 524.06 L1377.02 524 L1379.2 523.81 L1381.38 523.52 L1383.57 523.14 L1385.75 522.7 L1387.93 522.2 L1390.12 521.68 L1392.3 521.14 L1394.48 520.6 L1396.67 520.08 L1398.85 519.61 L1401.03 519.19 L1403.22 518.85 L1405.4 518.6 L1407.48 518.49 L1409.57 518.47 L1411.65 518.54 L1413.73 518.69 L1415.82 518.91 L1417.9 519.2 L1419.98 519.56 L1422.07 519.97 L1424.15 520.42 L1426.23 520.92 L1428.32 521.45 L1430.4 522.01 L1432.48 522.6 L1434.57 523.19 L1436.65 523.8 L1438.73 524.4 L1440.82 525 L1442.9 525.59 L1444.98 526.16 L1447.07 526.71 L1449.15 527.22 L1451.23 527.69 L1453.32 528.12 L1455.4 528.5 L1457.29 528.78 L1459.18 529.03 L1461.06 529.23 L1462.95 529.4 L1464.84 529.55 L1466.73 529.68 L1468.61 529.8 L1470.5 529.91 L1472.39 530.02 L1474.28 530.13 L1476.16 530.25 L1478.05 530.39 L1479.94 530.55 L1481.83 530.74 L1483.71 530.96 L1485.6 531.22 L1487.49 531.52 L1489.38 531.88 L1491.26 532.29 L1493.15 532.76 L1495.04 533.31 L1496.92 533.92 L1498.81 534.62 L1500.7 535.4 L1502.87 536.46 L1505.03 537.62 L1507.2 538.87 L1509.37 540.19 L1511.53 541.56 L1513.7 542.97 L1515.87 544.4 L1518.03 545.83 L1520.2 547.25 L1522.37 548.64 L1524.53 549.98 L1526.7 551.26 L1528.87 552.46 L1531.03 553.57 L1533.2 554.56 L1535.37 555.42 L1537.53 556.13 L1539.7 556.68 L1541.87 557.05 L1544.03 557.22 L1546.2 557.18 L1548.37 556.9 L1550.53 556.38 L1552.7 555.6 L1554.81 554.21 L1556.92 552.56 L1559.03 550.69 L1561.13 548.59 L1563.24 546.3 L1565.35 543.83 L1567.46 541.19 L1569.57 538.4 L1571.67 535.48 L1573.78 532.44 L1575.89 529.3 L1578 526.08 L1580.11 522.79 L1582.22 519.45 L1584.33 516.08 L1586.43 512.7 L1588.54 509.31 L1590.65 505.94 L1592.76 502.6 L1594.87 499.31 L1596.97 496.09 L1599.08 492.96 L1601.19 489.92 L1603.3 487 L1605.21 484.59 L1607.12 482.28 L1609.02 480.08 L1610.93 477.97 L1612.84 475.97 L1614.75 474.06 L1616.66 472.25 L1618.57 470.53 L1620.47 468.9 L1622.38 467.35 L1624.29 465.89 L1626.2 464.5 L1628.11 463.2 L1630.02 461.97 L1631.92 460.82 L1633.83 459.73 L1635.74 458.72 L1637.65 457.77 L1639.56 456.88 L1641.47 456.05 L1643.38 455.28 L1645.28 454.57 L1647.19 453.91 L1649.1 453.3 L1651.27 452.74 L1653.43 452.22 L1655.6 451.75 L1657.77 451.31 L1659.93 450.89 L1662.1 450.47 L1664.27 450.06 L1666.43 449.63 L1668.6 449.18 L1670.77 448.69 L1672.93 448.16 L1675.1 447.58 L1677.27 446.93 L1679.43 446.2 L1681.6 445.38 L1683.77 444.47 L1685.93 443.45 L1688.1 442.32 L1690.27 441.05 L1692.43 439.64 L1694.6 438.08 L1696.77 436.36 L1698.93 434.47 L1701.1 432.4 L1703.2 430.04 L1705.3 427.52 L1707.4 424.85 L1709.5 422.06 L1711.6 419.17 L1713.7 416.2 L1715.8 413.16 L1717.9 410.08 L1720 406.97 L1722.1 403.86 L1724.2 400.76 L1726.3 397.7 L1728.4 394.69 L1730.5 391.75 L1732.6 388.91 L1734.7 386.17 L1736.8 383.57 L1738.9 381.12 L1741 378.85 L1743.1 376.76 L1745.2 374.88 L1747.3 373.23 L1749.4 371.83 L1751.5 370.7 L1753.38 370.25 L1755.27 370.02 L1757.15 369.99 L1759.03 370.16 L1760.92 370.5 L1762.8 371.01 L1764.68 371.67 L1766.57 372.46 L1768.45 373.39 L1770.33 374.42 L1772.22 375.55 L1774.1 376.77 L1775.98 378.06 L1777.87 379.4 L1779.75 380.79 L1781.63 382.21 L1783.52 383.65 L1785.4 385.1 L1787.28 386.53 L1789.17 387.94 L1791.05 389.32 L1792.93 390.65 L1794.82 391.91 L1796.7 393.1 L1798.88 394.29 L1801.06 395.36 L1803.24 396.33 L1805.42 397.19 L1807.6 397.95 L1809.78 398.61 L1811.95 399.19 L1814.13 399.68 L1816.31 400.09 L1818.49 400.43 L1820.67 400.7 L1822.85 400.9 L1825.03 401.05 L1827.21 401.13 L1829.39 401.17 L1831.57 401.17 L1833.75 401.12 L1835.92 401.04 L1838.1 400.93 L1840.28 400.79 L1842.46 400.64 L1844.64 400.47 L1846.82 400.29 L1849 400.1" stroke="#ff0000" stroke-width="2.0" fill="none" stroke-linejoin="round"/>
<circle cx="1306.9" cy="408.2" r="6.8" fill="#ff0000" stroke="#000" stroke-width="1.8"/>
<circle cx="1353" cy="514.1" r="6.8" fill="#ff0000" stroke="#000" stroke-width="1.8"/>
<circle cx="1405.4" cy="518.6" r="6.8" fill="#ff0000" stroke="#000" stroke-width="1.8"/>
<circle cx="1455.4" cy="528.5" r="6.8" fill="#ff0000" stroke="#000" stroke-width="1.8"/>
<circle cx="1500.7" cy="535.4" r="6.8" fill="#ff0000" stroke="#000" stroke-width="1.8"/>
<circle cx="1552.7" cy="555.6" r="6.8" fill="#ff0000" stroke="#000" stroke-width="1.8"/>
<circle cx="1603.3" cy="487" r="6.8" fill="#ff0000" stroke="#000" stroke-width="1.8"/>
<circle cx="1649.1" cy="453.3" r="6.8" fill="#ff0000" stroke="#000" stroke-width="1.8"/>
<circle cx="1701.1" cy="432.4" r="6.8" fill="#ff0000" stroke="#000" stroke-width="1.8"/>
<circle cx="1751.5" cy="370.7" r="6.8" fill="#ff0000" stroke="#000" stroke-width="1.8"/>
<circle cx="1796.7" cy="393.1" r="6.8" fill="#ff0000" stroke="#000" stroke-width="1.8"/>
<circle cx="1849" cy="400.1" r="6.8" fill="#ff0000" stroke="#000" stroke-width="1.8"/>
<path d="M1141.3 51.4 H1910 M1141.3 603.2 H1910 M1141.3 51.4 V603.2 M1910 51.4 V603.2" stroke="#000" stroke-width="2.0" fill="none" stroke-linecap="square"/>
<path d="M1282.49 603.2 V612.2 M1439.37 603.2 V612.2 M1596.24 603.2 V612.2 M1753.12 603.2 V612.2 M1910 603.2 V612.2 M1132.3 603.2 H1141.3 M1132.3 511.23 H1141.3 M1132.3 419.27 H1141.3 M1132.3 327.3 H1141.3 M1132.3 235.33 H1141.3 M1132.3 143.37 H1141.3 M1132.3 51.4 H1141.3 M1910 603.2 H1919 M1910 492.84 H1919 M1910 382.48 H1919 M1910 272.12 H1919 M1910 161.76 H1919 M1910 51.4 H1919" stroke="#000" stroke-width="2.0" fill="none"/>
<polygon points="1295.6,604.2 1295.6,601.5 1295.83,600.18 1296.13,598.38 1296.5,596.23 1296.9,593.9 1297.32,591.52 1297.72,589.25 1298.16,586.89 1298.65,584.27 1299.15,581.61 1299.62,579.12 1300.01,577.01 1300.3,575.5 1301.54,573.3 1303.22,570.26 1305.22,566.66 1307.44,562.79 1309.77,558.93 1312.1,555.38 1314.4,552.12 1316.77,548.93 1319.24,545.75 1321.86,542.54 1324.69,539.24 1327.75,535.8 1331.04,532.28 1334.51,528.73 1338.19,525.09 1342.07,521.3 1346.17,517.31 1350.5,513.05 1355.08,508.53 1359.89,503.79 1364.93,498.84 1370.16,493.7 1375.58,488.38 1381.15,482.9 1386.93,477.2 1392.94,471.27 1399.13,465.16 1405.44,458.92 1411.83,452.62 1418.23,446.3 1424.68,439.97 1431.23,433.59 1437.86,427.13 1444.52,420.6 1451.18,413.96 1457.8,407.23 1464.42,400.4 1471.08,393.5 1477.73,386.5 1484.35,379.39 1490.91,372.13 1497.37,364.73 1503.78,357.13 1510.15,349.35 1516.45,341.44 1522.67,333.43 1528.76,325.36 1534.7,317.27 1540.82,308.57 1547.21,299.1 1553.48,289.57 1559.23,280.7 1564.07,273.21 1567.6,267.8 1568.05,270.6 1568.67,274.44 1569.41,279.01 1570.21,284 1571.01,289.11 1571.77,294.03 1572.5,298.89 1573.24,303.99 1573.98,309.2 1574.73,314.42 1575.49,319.54 1576.25,324.45 1577.02,329.17 1577.78,333.78 1578.56,338.3 1579.34,342.71 1580.15,347.04 1580.98,351.28 1581.82,355.39 1582.69,359.38 1583.57,363.27 1584.47,367.11 1585.39,370.92 1586.32,374.75 1587.27,378.59 1588.22,382.42 1589.19,386.23 1590.18,390.01 1591.21,393.74 1592.27,397.43 1593.37,401.06 1594.5,404.65 1595.65,408.2 1596.85,411.7 1598.09,415.16 1599.38,418.58 1600.7,421.91 1602.05,425.17 1603.44,428.38 1604.9,431.59 1606.44,434.82 1608.07,438.13 1609.79,441.48 1611.57,444.84 1613.42,448.23 1615.39,451.68 1617.48,455.18 1619.72,458.78 1622.15,462.5 1624.73,466.34 1627.44,470.25 1630.24,474.17 1633.12,478.03 1636.02,481.78 1639,485.44 1642.07,489.08 1645.21,492.66 1648.39,496.16 1651.56,499.54 1654.7,502.78 1657.82,505.86 1660.93,508.81 1664.05,511.64 1667.17,514.37 1670.28,517.01 1673.4,519.57 1676.52,522.05 1679.63,524.42 1682.75,526.7 1685.87,528.9 1688.98,531.04 1692.1,533.13 1695.16,535.12 1698.16,537.02 1701.16,538.85 1704.22,540.66 1707.41,542.48 1710.8,544.35 1714.31,546.25 1717.89,548.13 1721.6,550.02 1725.5,551.96 1729.66,553.96 1734.15,556.05 1739,558.26 1744.18,560.57 1749.61,562.95 1755.24,565.35 1761,567.74 1766.83,570.07 1772.81,572.4 1779.03,574.74 1785.38,577.08 1791.76,579.36 1798.06,581.55 1804.18,583.63 1810.16,585.58 1816.11,587.44 1821.97,589.22 1827.72,590.91 1833.32,592.52 1838.72,594.05 1844.21,595.55 1849.87,597.03 1855.37,598.43 1860.39,599.68 1864.61,600.72 1867.7,601.5 1867.7,604.2" fill="#b3b3b3" fill-opacity="0.2235"/>
<polyline points="1295.6,601.5 1295.83,600.18 1296.13,598.38 1296.5,596.23 1296.9,593.9 1297.32,591.52 1297.72,589.25 1298.16,586.89 1298.65,584.27 1299.15,581.61 1299.62,579.12 1300.01,577.01 1300.3,575.5 1301.54,573.3 1303.22,570.26 1305.22,566.66 1307.44,562.79 1309.77,558.93 1312.1,555.38 1314.4,552.12 1316.77,548.93 1319.24,545.75 1321.86,542.54 1324.69,539.24 1327.75,535.8 1331.04,532.28 1334.51,528.73 1338.19,525.09 1342.07,521.3 1346.17,517.31 1350.5,513.05 1355.08,508.53 1359.89,503.79 1364.93,498.84 1370.16,493.7 1375.58,488.38 1381.15,482.9 1386.93,477.2 1392.94,471.27 1399.13,465.16 1405.44,458.92 1411.83,452.62 1418.23,446.3 1424.68,439.97 1431.23,433.59 1437.86,427.13 1444.52,420.6 1451.18,413.96 1457.8,407.23 1464.42,400.4 1471.08,393.5 1477.73,386.5 1484.35,379.39 1490.91,372.13 1497.37,364.73 1503.78,357.13 1510.15,349.35 1516.45,341.44 1522.67,333.43 1528.76,325.36 1534.7,317.27 1540.82,308.57 1547.21,299.1 1553.48,289.57 1559.23,280.7 1564.07,273.21 1567.6,267.8 1568.05,270.6 1568.67,274.44 1569.41,279.01 1570.21,284 1571.01,289.11 1571.77,294.03 1572.5,298.89 1573.24,303.99 1573.98,309.2 1574.73,314.42 1575.49,319.54 1576.25,324.45 1577.02,329.17 1577.78,333.78 1578.56,338.3 1579.34,342.71 1580.15,347.04 1580.98,351.28 1581.82,355.39 1582.69,359.38 1583.57,363.27 1584.47,367.11 1585.39,370.92 1586.32,374.75 1587.27,378.59 1588.22,382.42 1589.19,386.23 1590.18,390.01 1591.21,393.74 1592.27,397.43 1593.37,401.06 1594.5,404.65 1595.65,408.2 1596.85,411.7 1598.09,415.16 1599.38,418.58 1600.7,421.91 1602.05,425.17 1603.44,428.38 1604.9,431.59 1606.44,434.82 1608.07,438.13 1609.79,441.48 1611.57,444.84 1613.42,448.23 1615.39,451.68 1617.48,455.18 1619.72,458.78 1622.15,462.5 1624.73,466.34 1627.44,470.25 1630.24,474.17 1633.12,478.03 1636.02,481.78 1639,485.44 1642.07,489.08 1645.21,492.66 1648.39,496.16 1651.56,499.54 1654.7,502.78 1657.82,505.86 1660.93,508.81 1664.05,511.64 1667.17,514.37 1670.28,517.01 1673.4,519.57 1676.52,522.05 1679.63,524.42 1682.75,526.7 1685.87,528.9 1688.98,531.04 1692.1,533.13 1695.16,535.12 1698.16,537.02 1701.16,538.85 1704.22,540.66 1707.41,542.48 1710.8,544.35 1714.31,546.25 1717.89,548.13 1721.6,550.02 1725.5,551.96 1729.66,553.96 1734.15,556.05 1739,558.26 1744.18,560.57 1749.61,562.95 1755.24,565.35 1761,567.74 1766.83,570.07 1772.81,572.4 1779.03,574.74 1785.38,577.08 1791.76,579.36 1798.06,581.55 1804.18,583.63 1810.16,585.58 1816.11,587.44 1821.97,589.22 1827.72,590.91 1833.32,592.52 1838.72,594.05 1844.21,595.55 1849.87,597.03 1855.37,598.43 1860.39,599.68 1864.61,600.72 1867.7,601.5" fill="none" stroke="#fff" stroke-width="1.6"/>
<text x="1282.49" y="641.4" font-size="22" text-anchor="middle">0</text>
<text x="1439.37" y="641.4" font-size="22" text-anchor="middle">500</text>
<text x="1596.24" y="641.4" font-size="22" text-anchor="middle">1000</text>
<text x="1753.12" y="641.4" font-size="22" text-anchor="middle">1500</text>
<text x="1910" y="641.4" font-size="22" text-anchor="middle">2000</text>
<text x="1122" y="610.4" font-size="22" text-anchor="end">0,000</text>
<text x="1122" y="518.43" font-size="22" text-anchor="end">0,005</text>
<text x="1122" y="426.47" font-size="22" text-anchor="end">0,010</text>
<text x="1122" y="334.5" font-size="22" text-anchor="end">0,015</text>
<text x="1122" y="242.53" font-size="22" text-anchor="end">0,020</text>
<text x="1122" y="150.57" font-size="22" text-anchor="end">0,025</text>
<text x="1122" y="58.6" font-size="22" text-anchor="end">0,030</text>
<text x="1928.2" y="610.4" font-size="22" text-anchor="start">5</text>
<text x="1928.2" y="500.04" font-size="22" text-anchor="start">10</text>
<text x="1928.2" y="389.68" font-size="22" text-anchor="start">15</text>
<text x="1928.2" y="279.32" font-size="22" text-anchor="start">20</text>
<text x="1928.2" y="168.96" font-size="22" text-anchor="start">25</text>
<text x="1928.2" y="58.6" font-size="22" text-anchor="start">30</text>
<text x="1525.4" y="21.3" font-size="30.4" text-anchor="middle">Rabbit 2</text>
<text x="1524.65" y="690.2" font-size="26" text-anchor="middle">t (ms)</text>
<text transform="translate(1033.8 327.3) rotate(-90)" font-size="27" text-anchor="middle">F<tspan font-size="18" dy="9.6">R/D</tspan></text>
<text transform="translate(1995 327.3) rotate(-90)" font-size="26.5" text-anchor="middle">P<tspan font-size="17" dy="9.3">TRACH</tspan><tspan dy="-9.3" dx="2.5">(cmH</tspan><tspan font-size="17" dy="9.3">2</tspan><tspan dy="-9.3">O)</tspan></text>
<rect x="1728.2" y="69.9" width="154.7" height="123.6" fill="#fff" stroke="#000" stroke-width="2"/>
<path d="M1743.2 100.5 H1793.2" stroke="#00ff00" stroke-width="2.0"/>
<polygon points="1768.2,93.03 1761.9,104.23 1774.5,104.23" fill="#00ff00" stroke="#000" stroke-width="1.8"/>
<text x="1804.1" y="104.7" font-size="22.3">F<tspan font-size="14.3" dy="6.3">R</tspan></text>
<path d="M1743.2 131.1 H1793.2" stroke="#ff0000" stroke-width="2.0"/>
<circle cx="1768.2" cy="131.1" r="6.8" fill="#ff0000" stroke="#000" stroke-width="1.8"/>
<text x="1804.1" y="135.3" font-size="22.3">F<tspan font-size="14.3" dy="6.3">D</tspan></text>
<rect x="1744.4" y="156.2" width="47.6" height="14.6" fill="#b3b3b3" fill-opacity="0.2235"/>
<text x="1804.1" y="165.7" font-size="22.3">P<tspan font-size="14.3" dy="6.3">TRACH</tspan></text>
<path d="M245.16 1368.4 V821.8 M375.45 1368.4 V821.8 M505.74 1368.4 V821.8 M636.02 1368.4 V821.8 M766.31 1368.4 V821.8 M131.9 1262.08 H895.6 M131.9 1151.76 H895.6 M131.9 1041.44 H895.6 M131.9 931.12 H895.6" stroke="#4a4a4a" stroke-width="1.6" stroke-dasharray="1.6 4.4" fill="none"/>
<path d="M265.6 1339.8 L267.18 1339.93 L268.75 1340.07 L270.33 1340.2 L271.9 1340.32 L273.48 1340.45 L275.05 1340.57 L276.62 1340.68 L278.2 1340.78 L279.77 1340.88 L281.35 1340.97 L282.93 1341.05 L284.5 1341.11 L286.07 1341.17 L287.65 1341.21 L289.23 1341.24 L290.8 1341.25 L292.38 1341.25 L293.95 1341.23 L295.52 1341.19 L297.1 1341.14 L298.67 1341.06 L300.25 1340.96 L301.82 1340.84 L303.4 1340.7 L305.08 1340.47 L306.76 1340.2 L308.44 1339.92 L310.12 1339.6 L311.8 1339.26 L313.47 1338.9 L315.15 1338.51 L316.83 1338.09 L318.51 1337.65 L320.19 1337.19 L321.87 1336.7 L323.55 1336.18 L325.23 1335.65 L326.91 1335.09 L328.59 1334.51 L330.27 1333.9 L331.95 1333.28 L333.62 1332.63 L335.3 1331.96 L336.98 1331.27 L338.66 1330.56 L340.34 1329.82 L342.02 1329.07 L343.7 1328.3 L345.31 1327.48 L346.93 1326.64 L348.54 1325.78 L350.15 1324.89 L351.76 1323.99 L353.38 1323.06 L354.99 1322.11 L356.6 1321.14 L358.21 1320.14 L359.82 1319.11 L361.44 1318.06 L363.05 1316.97 L364.66 1315.86 L366.27 1314.72 L367.89 1313.54 L369.5 1312.34 L371.11 1311.09 L372.72 1309.82 L374.34 1308.51 L375.95 1307.16 L377.56 1305.78 L379.17 1304.36 L380.79 1302.9 L382.4 1301.4 L383.98 1299.9 L385.57 1298.38 L387.15 1296.83 L388.73 1295.28 L390.32 1293.73 L391.9 1292.19 L393.48 1290.67 L395.07 1289.19 L396.65 1287.75 L398.23 1286.36 L399.82 1285.04 L401.4 1283.79 L402.98 1282.63 L404.57 1281.56 L406.15 1280.6 L407.73 1279.75 L409.32 1279.03 L410.9 1278.45 L412.48 1278.01 L414.07 1277.73 L415.65 1277.62 L417.23 1277.69 L418.82 1277.95 L420.4 1278.4 L422.08 1279.43 L423.76 1280.68 L425.44 1282.14 L427.12 1283.78 L428.8 1285.6 L430.47 1287.57 L432.15 1289.68 L433.83 1291.92 L435.51 1294.27 L437.19 1296.72 L438.87 1299.24 L440.55 1301.83 L442.23 1304.46 L443.91 1307.13 L445.59 1309.81 L447.27 1312.49 L448.95 1315.16 L450.62 1317.8 L452.3 1320.39 L453.98 1322.92 L455.66 1325.37 L457.34 1327.73 L459.02 1329.98 L460.7 1332.1 L462.31 1333.88 L463.93 1335.55 L465.54 1337.09 L467.15 1338.52 L468.76 1339.85 L470.38 1341.08 L471.99 1342.22 L473.6 1343.27 L475.21 1344.24 L476.82 1345.13 L478.44 1345.96 L480.05 1346.72 L481.66 1347.43 L483.27 1348.08 L484.89 1348.7 L486.5 1349.27 L488.11 1349.81 L489.72 1350.32 L491.34 1350.82 L492.95 1351.3 L494.56 1351.77 L496.17 1352.24 L497.79 1352.72 L499.4 1353.2 L500.97 1353.64 L502.53 1354.09 L504.1 1354.56 L505.67 1355.03 L507.23 1355.51 L508.8 1355.99 L510.37 1356.48 L511.93 1356.97 L513.5 1357.45 L515.07 1357.93 L516.63 1358.41 L518.2 1358.87 L519.77 1359.33 L521.33 1359.77 L522.9 1360.19 L524.47 1360.6 L526.03 1360.99 L527.6 1361.36 L529.17 1361.71 L530.73 1362.03 L532.3 1362.32 L533.87 1362.58 L535.43 1362.81 L537 1363 L538.66 1363.11 L540.32 1363.17 L541.98 1363.21 L543.63 1363.2 L545.29 1363.17 L546.95 1363.1 L548.61 1363 L550.27 1362.88 L551.92 1362.74 L553.58 1362.57 L555.24 1362.38 L556.9 1362.18 L558.56 1361.96 L560.22 1361.72 L561.88 1361.47 L563.53 1361.22 L565.19 1360.96 L566.85 1360.69 L568.51 1360.42 L570.17 1360.15 L571.82 1359.88 L573.48 1359.61 L575.14 1359.35 L576.8 1359.1 L578.42 1358.87 L580.03 1358.65 L581.65 1358.44 L583.27 1358.24 L584.88 1358.05 L586.5 1357.87 L588.12 1357.7 L589.73 1357.55 L591.35 1357.41 L592.97 1357.28 L594.58 1357.16 L596.2 1357.06 L597.82 1356.97 L599.43 1356.89 L601.05 1356.83 L602.67 1356.79 L604.28 1356.76 L605.9 1356.74 L607.52 1356.74 L609.13 1356.76 L610.75 1356.79 L612.37 1356.84 L613.98 1356.91 L615.6 1357 L617.18 1357.13 L618.77 1357.27 L620.35 1357.43 L621.93 1357.59 L623.52 1357.77 L625.1 1357.96 L626.68 1358.16 L628.27 1358.36 L629.85 1358.56 L631.43 1358.76 L633.02 1358.97 L634.6 1359.17 L636.18 1359.37 L637.77 1359.56 L639.35 1359.75 L640.93 1359.92 L642.52 1360.09 L644.1 1360.24 L645.68 1360.38 L647.27 1360.51 L648.85 1360.61 L650.43 1360.7 L652.02 1360.76 L653.6 1360.8 L655.27 1360.77 L656.94 1360.72 L658.61 1360.65 L660.28 1360.54 L661.95 1360.42 L663.62 1360.27 L665.3 1360.1 L666.97 1359.91 L668.64 1359.7 L670.31 1359.47 L671.98 1359.22 L673.65 1358.96 L675.32 1358.68 L676.99 1358.39 L678.66 1358.08 L680.33 1357.76 L682 1357.43 L683.68 1357.09 L685.35 1356.75 L687.02 1356.39 L688.69 1356.02 L690.36 1355.65 L692.03 1355.28 L693.7 1354.9 L695.31 1354.53 L696.93 1354.17 L698.54 1353.8 L700.15 1353.44 L701.76 1353.08 L703.38 1352.73 L704.99 1352.38 L706.6 1352.05 L708.21 1351.73 L709.83 1351.42 L711.44 1351.13 L713.05 1350.86 L714.66 1350.61 L716.27 1350.38 L717.89 1350.17 L719.5 1349.99 L721.11 1349.84 L722.73 1349.72 L724.34 1349.62 L725.95 1349.56 L727.56 1349.54 L729.17 1349.55 L730.79 1349.61 L732.4 1349.7 L733.98 1349.89 L735.55 1350.12 L737.12 1350.39 L738.7 1350.68 L740.27 1351.01 L741.85 1351.37 L743.42 1351.74 L745 1352.14 L746.58 1352.56 L748.15 1352.99 L749.73 1353.44 L751.3 1353.89 L752.88 1354.35 L754.45 1354.82 L756.02 1355.29 L757.6 1355.75 L759.18 1356.22 L760.75 1356.67 L762.33 1357.12 L763.9 1357.55 L765.48 1357.97 L767.05 1358.37 L768.62 1358.75 L770.2 1359.1 L771.89 1359.42 L773.58 1359.71 L775.26 1359.97 L776.95 1360.2 L778.64 1360.41 L780.33 1360.59 L782.01 1360.75 L783.7 1360.89 L785.39 1361.01 L787.08 1361.11 L788.76 1361.19 L790.45 1361.25 L792.14 1361.3 L793.83 1361.34 L795.51 1361.36 L797.2 1361.37 L798.89 1361.37 L800.58 1361.36 L802.26 1361.35 L803.95 1361.33 L805.64 1361.3 L807.33 1361.27 L809.01 1361.23 L810.7 1361.2" stroke="#00ff00" stroke-width="2.0" fill="none" stroke-linejoin="round"/>
<polygon points="265.6,1332.33 259.3,1343.53 271.9,1343.53" fill="#00ff00" stroke="#000" stroke-width="1.8"/>
<polygon points="303.4,1333.23 297.1,1344.43 309.7,1344.43" fill="#00ff00" stroke="#000" stroke-width="1.8"/>
<polygon points="343.7,1320.83 337.4,1332.03 350,1332.03" fill="#00ff00" stroke="#000" stroke-width="1.8"/>
<polygon points="382.4,1293.93 376.1,1305.13 388.7,1305.13" fill="#00ff00" stroke="#000" stroke-width="1.8"/>
<polygon points="420.4,1270.93 414.1,1282.13 426.7,1282.13" fill="#00ff00" stroke="#000" stroke-width="1.8"/>
<polygon points="460.7,1324.63 454.4,1335.83 467,1335.83" fill="#00ff00" stroke="#000" stroke-width="1.8"/>
<polygon points="499.4,1345.73 493.1,1356.93 505.7,1356.93" fill="#00ff00" stroke="#000" stroke-width="1.8"/>
<polygon points="537,1355.53 530.7,1366.73 543.3,1366.73" fill="#00ff00" stroke="#000" stroke-width="1.8"/>
<polygon points="576.8,1351.63 570.5,1362.83 583.1,1362.83" fill="#00ff00" stroke="#000" stroke-width="1.8"/>
<polygon points="615.6,1349.53 609.3,1360.73 621.9,1360.73" fill="#00ff00" stroke="#000" stroke-width="1.8"/>
<polygon points="653.6,1353.33 647.3,1364.53 659.9,1364.53" fill="#00ff00" stroke="#000" stroke-width="1.8"/>
<polygon points="693.7,1347.43 687.4,1358.63 700,1358.63" fill="#00ff00" stroke="#000" stroke-width="1.8"/>
<polygon points="732.4,1342.23 726.1,1353.43 738.7,1353.43" fill="#00ff00" stroke="#000" stroke-width="1.8"/>
<polygon points="770.2,1351.63 763.9,1362.83 776.5,1362.83" fill="#00ff00" stroke="#000" stroke-width="1.8"/>
<polygon points="810.7,1353.73 804.4,1364.93 817,1364.93" fill="#00ff00" stroke="#000" stroke-width="1.8"/>
<path d="M264.5 1345.2 L266.12 1345.76 L267.74 1346.32 L269.36 1346.89 L270.98 1347.44 L272.6 1348 L274.23 1348.55 L275.85 1349.1 L277.47 1349.64 L279.09 1350.18 L280.71 1350.71 L282.33 1351.24 L283.95 1351.75 L285.57 1352.26 L287.19 1352.76 L288.81 1353.25 L290.43 1353.73 L292.05 1354.2 L293.67 1354.65 L295.3 1355.1 L296.92 1355.53 L298.54 1355.94 L300.16 1356.34 L301.78 1356.73 L303.4 1357.1 L305.08 1357.43 L306.76 1357.74 L308.44 1358.03 L310.12 1358.3 L311.8 1358.55 L313.47 1358.79 L315.15 1359.01 L316.83 1359.21 L318.51 1359.4 L320.19 1359.56 L321.87 1359.71 L323.55 1359.84 L325.23 1359.95 L326.91 1360.04 L328.59 1360.12 L330.27 1360.18 L331.95 1360.22 L333.62 1360.24 L335.3 1360.25 L336.98 1360.23 L338.66 1360.2 L340.34 1360.15 L342.02 1360.08 L343.7 1360 L345.31 1359.87 L346.93 1359.72 L348.54 1359.57 L350.15 1359.39 L351.76 1359.21 L353.38 1359.01 L354.99 1358.81 L356.6 1358.6 L358.21 1358.38 L359.82 1358.16 L361.44 1357.93 L363.05 1357.7 L364.66 1357.46 L366.27 1357.23 L367.89 1356.99 L369.5 1356.76 L371.11 1356.53 L372.72 1356.3 L374.34 1356.08 L375.95 1355.87 L377.56 1355.66 L379.17 1355.46 L380.79 1355.28 L382.4 1355.1 L383.98 1354.97 L385.57 1354.84 L387.15 1354.73 L388.73 1354.64 L390.32 1354.56 L391.9 1354.49 L393.48 1354.44 L395.07 1354.41 L396.65 1354.4 L398.23 1354.4 L399.82 1354.42 L401.4 1354.46 L402.98 1354.52 L404.57 1354.6 L406.15 1354.71 L407.73 1354.83 L409.32 1354.98 L410.9 1355.15 L412.48 1355.34 L414.07 1355.56 L415.65 1355.81 L417.23 1356.08 L418.82 1356.38 L420.4 1356.7 L422.08 1356.99 L423.76 1357.31 L425.44 1357.62 L427.12 1357.92 L428.8 1358.2 L430.47 1358.44 L432.15 1358.63 L433.83 1358.74 L435.51 1358.78 L437.19 1358.72 L438.87 1358.55 L440.55 1358.25 L442.23 1357.81 L443.91 1357.23 L445.59 1356.47 L447.27 1355.53 L448.95 1354.4 L450.62 1353.06 L452.3 1351.49 L453.98 1349.69 L455.66 1347.63 L457.34 1345.3 L459.02 1342.7 L460.7 1339.8 L462.27 1336.52 L463.84 1333.01 L465.41 1329.28 L466.98 1325.36 L468.55 1321.3 L470.12 1317.11 L471.7 1312.83 L473.27 1308.48 L474.84 1304.1 L476.41 1299.71 L477.98 1295.34 L479.55 1291.03 L481.12 1286.8 L482.69 1282.68 L484.26 1278.7 L485.83 1274.89 L487.4 1271.29 L488.97 1267.91 L490.55 1264.79 L492.12 1261.96 L493.69 1259.44 L495.26 1257.28 L496.83 1255.49 L498.4 1254.1 L500 1253.72 L501.59 1253.77 L503.19 1254.22 L504.78 1255.04 L506.38 1256.2 L507.98 1257.69 L509.57 1259.46 L511.17 1261.51 L512.76 1263.81 L514.36 1266.32 L515.95 1269.02 L517.55 1271.89 L519.15 1274.9 L520.74 1278.03 L522.34 1281.25 L523.93 1284.53 L525.53 1287.85 L527.12 1291.18 L528.72 1294.5 L530.32 1297.78 L531.91 1300.99 L533.51 1304.12 L535.1 1307.13 L536.7 1310 L538.37 1312.71 L540.04 1315.25 L541.71 1317.62 L543.38 1319.82 L545.05 1321.87 L546.73 1323.77 L548.4 1325.52 L550.07 1327.15 L551.74 1328.64 L553.41 1330.01 L555.08 1331.26 L556.75 1332.4 L558.42 1333.45 L560.09 1334.39 L561.76 1335.25 L563.43 1336.03 L565.1 1336.73 L566.77 1337.36 L568.45 1337.94 L570.12 1338.45 L571.79 1338.92 L573.46 1339.35 L575.13 1339.74 L576.8 1340.1 L578.42 1340.32 L580.03 1340.53 L581.65 1340.71 L583.27 1340.88 L584.88 1341.04 L586.5 1341.18 L588.12 1341.31 L589.73 1341.43 L591.35 1341.55 L592.97 1341.65 L594.58 1341.76 L596.2 1341.85 L597.82 1341.95 L599.43 1342.04 L601.05 1342.13 L602.67 1342.22 L604.28 1342.32 L605.9 1342.42 L607.52 1342.53 L609.13 1342.64 L610.75 1342.77 L612.37 1342.9 L613.98 1343.04 L615.6 1343.2 L617.18 1343.38 L618.77 1343.57 L620.35 1343.77 L621.93 1343.98 L623.52 1344.2 L625.1 1344.42 L626.68 1344.66 L628.27 1344.9 L629.85 1345.14 L631.43 1345.39 L633.02 1345.63 L634.6 1345.88 L636.18 1346.12 L637.77 1346.37 L639.35 1346.61 L640.93 1346.84 L642.52 1347.07 L644.1 1347.29 L645.68 1347.51 L647.27 1347.71 L648.85 1347.9 L650.43 1348.08 L652.02 1348.25 L653.6 1348.4 L655.27 1348.52 L656.94 1348.62 L658.61 1348.7 L660.28 1348.77 L661.95 1348.82 L663.62 1348.86 L665.3 1348.89 L666.97 1348.9 L668.64 1348.9 L670.31 1348.88 L671.98 1348.86 L673.65 1348.82 L675.32 1348.78 L676.99 1348.72 L678.66 1348.66 L680.33 1348.59 L682 1348.51 L683.68 1348.42 L685.35 1348.33 L687.02 1348.23 L688.69 1348.13 L690.36 1348.02 L692.03 1347.91 L693.7 1347.8 L695.31 1347.69 L696.93 1347.58 L698.54 1347.47 L700.15 1347.36 L701.76 1347.25 L703.38 1347.15 L704.99 1347.06 L706.6 1346.96 L708.21 1346.88 L709.83 1346.81 L711.44 1346.75 L713.05 1346.69 L714.66 1346.65 L716.27 1346.63 L717.89 1346.62 L719.5 1346.62 L721.11 1346.65 L722.73 1346.69 L724.34 1346.75 L725.95 1346.83 L727.56 1346.94 L729.17 1347.07 L730.79 1347.22 L732.4 1347.4 L733.98 1347.64 L735.55 1347.9 L737.12 1348.18 L738.7 1348.48 L740.27 1348.8 L741.85 1349.13 L743.42 1349.48 L745 1349.83 L746.58 1350.2 L748.15 1350.57 L749.73 1350.95 L751.3 1351.33 L752.88 1351.71 L754.45 1352.09 L756.02 1352.46 L757.6 1352.83 L759.18 1353.19 L760.75 1353.54 L762.33 1353.88 L763.9 1354.2 L765.48 1354.51 L767.05 1354.79 L768.62 1355.06 L770.2 1355.3 L771.89 1355.49 L773.58 1355.66 L775.26 1355.8 L776.95 1355.91 L778.64 1356 L780.33 1356.07 L782.01 1356.11 L783.7 1356.14 L785.39 1356.14 L787.08 1356.13 L788.76 1356.1 L790.45 1356.05 L792.14 1355.99 L793.83 1355.91 L795.51 1355.83 L797.2 1355.73 L798.89 1355.62 L800.58 1355.51 L802.26 1355.38 L803.95 1355.25 L805.64 1355.12 L807.33 1354.98 L809.01 1354.84 L810.7 1354.7" stroke="#ff0000" stroke-width="2.0" fill="none" stroke-linejoin="round"/>
<circle cx="264.5" cy="1345.2" r="6.8" fill="#ff0000" stroke="#000" stroke-width="1.8"/>
<circle cx="303.4" cy="1357.1" r="6.8" fill="#ff0000" stroke="#000" stroke-width="1.8"/>
<circle cx="343.7" cy="1360" r="6.8" fill="#ff0000" stroke="#000" stroke-width="1.8"/>
<circle cx="382.4" cy="1355.1" r="6.8" fill="#ff0000" stroke="#000" stroke-width="1.8"/>
<circle cx="420.4" cy="1356.7" r="6.8" fill="#ff0000" stroke="#000" stroke-width="1.8"/>
<circle cx="460.7" cy="1339.8" r="6.8" fill="#ff0000" stroke="#000" stroke-width="1.8"/>
<circle cx="498.4" cy="1254.1" r="6.8" fill="#ff0000" stroke="#000" stroke-width="1.8"/>
<circle cx="536.7" cy="1310" r="6.8" fill="#ff0000" stroke="#000" stroke-width="1.8"/>
<circle cx="576.8" cy="1340.1" r="6.8" fill="#ff0000" stroke="#000" stroke-width="1.8"/>
<circle cx="615.6" cy="1343.2" r="6.8" fill="#ff0000" stroke="#000" stroke-width="1.8"/>
<circle cx="653.6" cy="1348.4" r="6.8" fill="#ff0000" stroke="#000" stroke-width="1.8"/>
<circle cx="693.7" cy="1347.8" r="6.8" fill="#ff0000" stroke="#000" stroke-width="1.8"/>
<circle cx="732.4" cy="1347.4" r="6.8" fill="#ff0000" stroke="#000" stroke-width="1.8"/>
<circle cx="770.2" cy="1355.3" r="6.8" fill="#ff0000" stroke="#000" stroke-width="1.8"/>
<circle cx="810.7" cy="1354.7" r="6.8" fill="#ff0000" stroke="#000" stroke-width="1.8"/>
<path d="M127.9 820.8 H896.6 M127.9 1372.4 H896.6 M127.9 820.8 V1372.4 M896.6 820.8 V1372.4" stroke="#000" stroke-width="2.0" fill="none" stroke-linecap="square"/>
<path d="M245.16 1372.4 V1381.4 M375.45 1372.4 V1381.4 M505.74 1372.4 V1381.4 M636.02 1372.4 V1381.4 M766.31 1372.4 V1381.4 M896.6 1372.4 V1381.4 M118.9 1372.4 H127.9 M118.9 1280.47 H127.9 M118.9 1188.53 H127.9 M118.9 1096.6 H127.9 M118.9 1004.67 H127.9 M118.9 912.73 H127.9 M118.9 820.8 H127.9 M896.6 1372.4 H905.6 M896.6 1262.08 H905.6 M896.6 1151.76 H905.6 M896.6 1041.44 H905.6 M896.6 931.12 H905.6 M896.6 820.8 H905.6" stroke="#000" stroke-width="2.0" fill="none"/>
<polygon points="263.1,1373.4 263.1,1371 263.33,1369.24 263.63,1366.82 263.99,1363.94 264.42,1360.81 264.92,1357.64 265.5,1354.62 266.12,1351.77 266.78,1348.93 267.5,1346.03 268.34,1343.04 269.31,1339.92 270.45,1336.6 271.75,1333.12 273.16,1329.51 274.72,1325.76 276.43,1321.86 278.32,1317.79 280.4,1313.52 282.72,1309.02 285.26,1304.27 287.97,1299.35 290.82,1294.32 293.74,1289.28 296.7,1284.28 299.73,1279.27 302.89,1274.21 306.12,1269.11 309.39,1264.03 312.67,1259.01 315.9,1254.08 319.1,1249.28 322.29,1244.6 325.49,1239.97 328.69,1235.33 331.88,1230.63 335.07,1225.8 338.27,1220.92 341.46,1216.05 344.65,1211.12 347.84,1206.04 351.03,1200.74 354.22,1195.12 357.42,1189.23 360.61,1183.12 363.81,1176.79 367.01,1170.22 370.2,1163.39 373.4,1156.3 376.62,1148.84 379.86,1141 383.1,1132.91 386.32,1124.69 389.5,1116.46 392.6,1108.35 395.63,1100.28 398.61,1092.13 401.54,1083.98 404.44,1075.89 407.3,1067.91 410.15,1060.12 412.95,1052.53 415.7,1045.08 418.42,1037.74 421.13,1030.51 423.88,1023.35 426.67,1016.25 429.55,1009.15 432.49,1002.06 435.45,995.04 438.41,988.17 441.32,981.52 444.15,975.15 447.07,968.76 450.14,962.22 453.17,955.91 455.95,950.16 458.29,945.34 460,941.8 460.07,942.9 460.17,944.33 460.29,946.07 460.43,948.11 460.58,950.42 460.75,953 460.94,955.9 461.15,959.15 461.37,962.68 461.61,966.42 461.87,970.3 462.12,974.25 462.4,978.41 462.69,982.86 462.99,987.45 463.3,992.03 463.6,996.45 463.9,1000.55 464.19,1004.28 464.47,1007.74 464.75,1011.03 465.03,1014.28 465.33,1017.57 465.65,1021.02 465.98,1024.46 466.31,1027.75 466.65,1031.1 467.02,1034.69 467.43,1038.72 467.9,1043.37 468.42,1048.68 468.98,1054.46 469.58,1060.69 470.23,1067.3 470.94,1074.26 471.7,1081.5 472.53,1089.2 473.42,1097.42 474.36,1105.99 475.36,1114.7 476.39,1123.38 477.45,1131.82 478.55,1140.15 479.7,1148.54 480.89,1156.89 482.11,1165.1 483.36,1173.09 484.63,1180.75 485.9,1188.09 487.17,1195.17 488.47,1202.02 489.82,1208.67 491.25,1215.16 492.78,1221.5 494.37,1227.65 496.02,1233.59 497.74,1239.35 499.57,1244.99 501.53,1250.56 503.65,1256.1 505.94,1261.63 508.37,1267.11 510.94,1272.52 513.64,1277.83 516.44,1283 519.35,1288 522.39,1292.88 525.57,1297.66 528.87,1302.31 532.24,1306.77 535.67,1311.02 539.13,1315 542.62,1318.71 546.2,1322.18 549.83,1325.42 553.49,1328.46 557.14,1331.32 560.78,1334 564.39,1336.48 568.01,1338.72 571.64,1340.78 575.25,1342.69 578.85,1344.5 582.42,1346.25 585.97,1347.91 589.5,1349.43 593.01,1350.85 596.51,1352.19 600.01,1353.49 603.5,1354.75 606.99,1355.98 610.46,1357.17 613.93,1358.3 617.39,1359.38 620.86,1360.4 624.33,1361.38 627.79,1362.29 631.26,1363.15 634.72,1363.95 638.19,1364.71 641.67,1365.43 645.15,1366.12 648.89,1366.81 652.93,1367.48 656.98,1368.11 660.73,1368.68 663.91,1369.15 666.2,1369.5 666.2,1373.4" fill="#b3b3b3" fill-opacity="0.2235"/>
<polyline points="263.1,1371 263.33,1369.24 263.63,1366.82 263.99,1363.94 264.42,1360.81 264.92,1357.64 265.5,1354.62 266.12,1351.77 266.78,1348.93 267.5,1346.03 268.34,1343.04 269.31,1339.92 270.45,1336.6 271.75,1333.12 273.16,1329.51 274.72,1325.76 276.43,1321.86 278.32,1317.79 280.4,1313.52 282.72,1309.02 285.26,1304.27 287.97,1299.35 290.82,1294.32 293.74,1289.28 296.7,1284.28 299.73,1279.27 302.89,1274.21 306.12,1269.11 309.39,1264.03 312.67,1259.01 315.9,1254.08 319.1,1249.28 322.29,1244.6 325.49,1239.97 328.69,1235.33 331.88,1230.63 335.07,1225.8 338.27,1220.92 341.46,1216.05 344.65,1211.12 347.84,1206.04 351.03,1200.74 354.22,1195.12 357.42,1189.23 360.61,1183.12 363.81,1176.79 367.01,1170.22 370.2,1163.39 373.4,1156.3 376.62,1148.84 379.86,1141 383.1,1132.91 386.32,1124.69 389.5,1116.46 392.6,1108.35 395.63,1100.28 398.61,1092.13 401.54,1083.98 404.44,1075.89 407.3,1067.91 410.15,1060.12 412.95,1052.53 415.7,1045.08 418.42,1037.74 421.13,1030.51 423.88,1023.35 426.67,1016.25 429.55,1009.15 432.49,1002.06 435.45,995.04 438.41,988.17 441.32,981.52 444.15,975.15 447.07,968.76 450.14,962.22 453.17,955.91 455.95,950.16 458.29,945.34 460,941.8 460.07,942.9 460.17,944.33 460.29,946.07 460.43,948.11 460.58,950.42 460.75,953 460.94,955.9 461.15,959.15 461.37,962.68 461.61,966.42 461.87,970.3 462.12,974.25 462.4,978.41 462.69,982.86 462.99,987.45 463.3,992.03 463.6,996.45 463.9,1000.55 464.19,1004.28 464.47,1007.74 464.75,1011.03 465.03,1014.28 465.33,1017.57 465.65,1021.02 465.98,1024.46 466.31,1027.75 466.65,1031.1 467.02,1034.69 467.43,1038.72 467.9,1043.37 468.42,1048.68 468.98,1054.46 469.58,1060.69 470.23,1067.3 470.94,1074.26 471.7,1081.5 472.53,1089.2 473.42,1097.42 474.36,1105.99 475.36,1114.7 476.39,1123.38 477.45,1131.82 478.55,1140.15 479.7,1148.54 480.89,1156.89 482.11,1165.1 483.36,1173.09 484.63,1180.75 485.9,1188.09 487.17,1195.17 488.47,1202.02 489.82,1208.67 491.25,1215.16 492.78,1221.5 494.37,1227.65 496.02,1233.59 497.74,1239.35 499.57,1244.99 501.53,1250.56 503.65,1256.1 505.94,1261.63 508.37,1267.11 510.94,1272.52 513.64,1277.83 516.44,1283 519.35,1288 522.39,1292.88 525.57,1297.66 528.87,1302.31 532.24,1306.77 535.67,1311.02 539.13,1315 542.62,1318.71 546.2,1322.18 549.83,1325.42 553.49,1328.46 557.14,1331.32 560.78,1334 564.39,1336.48 568.01,1338.72 571.64,1340.78 575.25,1342.69 578.85,1344.5 582.42,1346.25 585.97,1347.91 589.5,1349.43 593.01,1350.85 596.51,1352.19 600.01,1353.49 603.5,1354.75 606.99,1355.98 610.46,1357.17 613.93,1358.3 617.39,1359.38 620.86,1360.4 624.33,1361.38 627.79,1362.29 631.26,1363.15 634.72,1363.95 638.19,1364.71 641.67,1365.43 645.15,1366.12 648.89,1366.81 652.93,1367.48 656.98,1368.11 660.73,1368.68 663.91,1369.15 666.2,1369.5" fill="none" stroke="#fff" stroke-width="1.6"/>
<text x="245.16" y="1409.6" font-size="22" text-anchor="middle">0</text>
<text x="375.45" y="1409.6" font-size="22" text-anchor="middle">500</text>
<text x="505.74" y="1409.6" font-size="22" text-anchor="middle">1000</text>
<text x="636.02" y="1409.6" font-size="22" text-anchor="middle">1500</text>
<text x="766.31" y="1409.6" font-size="22" text-anchor="middle">2000</text>
<text x="896.6" y="1409.6" font-size="22" text-anchor="middle">2500</text>
<text x="108.6" y="1379.6" font-size="22" text-anchor="end">0,000</text>
<text x="108.6" y="1287.67" font-size="22" text-anchor="end">0,005</text>
<text x="108.6" y="1195.73" font-size="22" text-anchor="end">0,010</text>
<text x="108.6" y="1103.8" font-size="22" text-anchor="end">0,015</text>
<text x="108.6" y="1011.87" font-size="22" text-anchor="end">0,020</text>
<text x="108.6" y="919.93" font-size="22" text-anchor="end">0,025</text>
<text x="108.6" y="828" font-size="22" text-anchor="end">0,030</text>
<text x="914.8" y="1379.6" font-size="22" text-anchor="start">5</text>
<text x="914.8" y="1269.28" font-size="22" text-anchor="start">10</text>
<text x="914.8" y="1158.96" font-size="22" text-anchor="start">15</text>
<text x="914.8" y="1048.64" font-size="22" text-anchor="start">20</text>
<text x="914.8" y="938.32" font-size="22" text-anchor="start">25</text>
<text x="914.8" y="828" font-size="22" text-anchor="start">30</text>
<text x="512" y="781.8" font-size="30.4" text-anchor="middle">Rabbit 3</text>
<text x="510.7" y="1457.7" font-size="26" text-anchor="middle">t (ms)</text>
<text transform="translate(20.4 1096.6) rotate(-90)" font-size="27" text-anchor="middle">F<tspan font-size="18" dy="9.6">R/D</tspan></text>
<text transform="translate(981.6 1096.6) rotate(-90)" font-size="26.5" text-anchor="middle">P<tspan font-size="17" dy="9.3">TRACH</tspan><tspan dy="-9.3" dx="0">(cmH</tspan><tspan font-size="17" dy="9.3">2</tspan><tspan dy="-9.3">O)</tspan></text>
<rect x="730.4" y="827.1" width="154.6" height="123.9" fill="#fff" stroke="#000" stroke-width="2"/>
<path d="M745.4 857.7 H795.4" stroke="#00ff00" stroke-width="2.0"/>
<polygon points="770.4,850.23 764.1,861.43 776.7,861.43" fill="#00ff00" stroke="#000" stroke-width="1.8"/>
<text x="806.3" y="861.9" font-size="22.3">F<tspan font-size="14.3" dy="6.3">R</tspan></text>
<path d="M745.4 888.3 H795.4" stroke="#ff0000" stroke-width="2.0"/>
<circle cx="770.4" cy="888.3" r="6.8" fill="#ff0000" stroke="#000" stroke-width="1.8"/>
<text x="806.3" y="892.5" font-size="22.3">F<tspan font-size="14.3" dy="6.3">D</tspan></text>
<rect x="746.6" y="913.4" width="47.6" height="14.6" fill="#b3b3b3" fill-opacity="0.2235"/>
<text x="806.3" y="922.9" font-size="22.3">P<tspan font-size="14.3" dy="6.3">TRACH</tspan></text>
<path d="M1219.03 1368.2 V821.6 M1305.4 1368.2 V821.6 M1391.78 1368.2 V821.6 M1478.15 1368.2 V821.6 M1564.52 1368.2 V821.6 M1650.89 1368.2 V821.6 M1737.26 1368.2 V821.6 M1823.63 1368.2 V821.6 M1145.3 1261.56 H1909 M1145.3 1151.32 H1909 M1145.3 1041.08 H1909 M1145.3 930.84 H1909" stroke="#4a4a4a" stroke-width="1.6" stroke-dasharray="1.6 4.4" fill="none"/>
<path d="M1253.6 1156.3 L1256.97 1145.81 L1260.35 1135.35 L1263.72 1124.94 L1267.1 1114.63 L1270.47 1104.45 L1273.85 1094.41 L1277.22 1084.56 L1280.6 1074.92 L1283.97 1065.52 L1287.35 1056.4 L1290.72 1047.58 L1294.1 1039.09 L1297.47 1030.98 L1300.85 1023.25 L1304.22 1015.96 L1307.6 1009.12 L1310.97 1002.77 L1314.35 996.93 L1317.72 991.65 L1321.1 986.94 L1324.47 982.84 L1327.85 979.38 L1331.22 976.59 L1334.6 974.5 L1337.96 974.25 L1341.32 974.69 L1344.69 975.75 L1348.05 977.4 L1351.41 979.6 L1354.77 982.28 L1358.14 985.42 L1361.5 988.95 L1364.86 992.85 L1368.22 997.05 L1371.59 1001.51 L1374.95 1006.2 L1378.31 1011.05 L1381.67 1016.03 L1385.04 1021.08 L1388.4 1026.17 L1391.76 1031.25 L1395.12 1036.26 L1398.49 1041.17 L1401.85 1045.93 L1405.21 1050.48 L1408.58 1054.79 L1411.94 1058.82 L1415.3 1062.5 L1418.67 1065.71 L1422.03 1068.58 L1425.4 1071.14 L1428.77 1073.44 L1432.13 1075.51 L1435.5 1077.39 L1438.87 1079.13 L1442.23 1080.77 L1445.6 1082.33 L1448.97 1083.87 L1452.33 1085.43 L1455.7 1087.03 L1459.07 1088.73 L1462.43 1090.56 L1465.8 1092.57 L1469.17 1094.78 L1472.53 1097.25 L1475.9 1100.01 L1479.27 1103.1 L1482.63 1106.56 L1486 1110.43 L1489.37 1114.75 L1492.73 1119.56 L1496.1 1124.9 L1499.47 1131.3 L1502.85 1138.22 L1506.22 1145.6 L1509.6 1153.38 L1512.97 1161.51 L1516.35 1169.92 L1519.72 1178.57 L1523.1 1187.39 L1526.47 1196.33 L1529.85 1205.33 L1533.22 1214.34 L1536.6 1223.29 L1539.97 1232.14 L1543.35 1240.81 L1546.72 1249.27 L1550.1 1257.45 L1553.47 1265.29 L1556.85 1272.74 L1560.22 1279.74 L1563.6 1286.23 L1566.97 1292.16 L1570.35 1297.47 L1573.72 1302.1 L1577.1 1306 L1580.45 1308.17 L1583.81 1309.61 L1587.16 1310.37 L1590.52 1310.5 L1593.87 1310.06 L1597.22 1309.09 L1600.58 1307.65 L1603.93 1305.78 L1607.29 1303.54 L1610.64 1300.98 L1614 1298.15 L1617.35 1295.1 L1620.7 1291.89 L1624.06 1288.55 L1627.41 1285.15 L1630.77 1281.74 L1634.12 1278.36 L1637.47 1275.06 L1640.83 1271.91 L1644.18 1268.95 L1647.54 1266.22 L1650.89 1263.79 L1654.25 1261.7 L1657.6 1260 L1660.99 1259.06 L1664.38 1258.55 L1667.77 1258.44 L1671.17 1258.69 L1674.56 1259.28 L1677.95 1260.18 L1681.34 1261.36 L1684.73 1262.79 L1688.12 1264.44 L1691.52 1266.28 L1694.91 1268.28 L1698.3 1270.41 L1701.69 1272.65 L1705.08 1274.97 L1708.47 1277.33 L1711.87 1279.7 L1715.26 1282.07 L1718.65 1284.39 L1722.04 1286.64 L1725.43 1288.79 L1728.83 1290.81 L1732.22 1292.67 L1735.61 1294.34 L1739 1295.8 L1742.38 1296.78 L1745.75 1297.52 L1749.12 1298.04 L1752.5 1298.35 L1755.88 1298.45 L1759.25 1298.36 L1762.62 1298.09 L1766 1297.64 L1769.38 1297.03 L1772.75 1296.27 L1776.12 1295.37 L1779.5 1294.33 L1782.88 1293.18 L1786.25 1291.91 L1789.62 1290.54 L1793 1289.07 L1796.38 1287.53 L1799.75 1285.91 L1803.12 1284.24 L1806.5 1282.51 L1809.88 1280.74 L1813.25 1278.95 L1816.62 1277.13 L1820 1275.3" stroke="#00ff00" stroke-width="2.0" fill="none" stroke-linejoin="round"/>
<polygon points="1253.6,1148.83 1247.3,1160.03 1259.9,1160.03" fill="#00ff00" stroke="#000" stroke-width="1.8"/>
<polygon points="1334.6,967.03 1328.3,978.23 1340.9,978.23" fill="#00ff00" stroke="#000" stroke-width="1.8"/>
<polygon points="1415.3,1055.03 1409,1066.23 1421.6,1066.23" fill="#00ff00" stroke="#000" stroke-width="1.8"/>
<polygon points="1496.1,1117.43 1489.8,1128.63 1502.4,1128.63" fill="#00ff00" stroke="#000" stroke-width="1.8"/>
<polygon points="1577.1,1298.53 1570.8,1309.73 1583.4,1309.73" fill="#00ff00" stroke="#000" stroke-width="1.8"/>
<polygon points="1657.6,1252.53 1651.3,1263.73 1663.9,1263.73" fill="#00ff00" stroke="#000" stroke-width="1.8"/>
<polygon points="1739,1288.33 1732.7,1299.53 1745.3,1299.53" fill="#00ff00" stroke="#000" stroke-width="1.8"/>
<polygon points="1820,1267.83 1813.7,1279.03 1826.3,1279.03" fill="#00ff00" stroke="#000" stroke-width="1.8"/>
<path d="M1253.1 1270.1 L1256.5 1270.06 L1259.89 1270.02 L1263.29 1269.98 L1266.68 1269.95 L1270.08 1269.92 L1273.47 1269.89 L1276.87 1269.87 L1280.27 1269.85 L1283.66 1269.84 L1287.06 1269.84 L1290.45 1269.85 L1293.85 1269.87 L1297.25 1269.9 L1300.64 1269.94 L1304.04 1270 L1307.43 1270.07 L1310.83 1270.15 L1314.22 1270.24 L1317.62 1270.36 L1321.02 1270.49 L1324.41 1270.64 L1327.81 1270.8 L1331.2 1270.99 L1334.6 1271.2 L1337.96 1271.54 L1341.32 1271.9 L1344.69 1272.3 L1348.05 1272.74 L1351.41 1273.22 L1354.77 1273.76 L1358.14 1274.35 L1361.5 1275 L1364.86 1275.72 L1368.22 1276.52 L1371.59 1277.39 L1374.95 1278.36 L1378.31 1279.41 L1381.67 1280.56 L1385.04 1281.82 L1388.4 1283.19 L1391.76 1284.67 L1395.12 1286.28 L1398.49 1288.01 L1401.85 1289.88 L1405.21 1291.88 L1408.58 1294.04 L1411.94 1296.34 L1415.3 1298.8 L1418.67 1301.22 L1422.03 1303.76 L1425.4 1306.35 L1428.77 1308.95 L1432.13 1311.5 L1435.5 1313.94 L1438.87 1316.24 L1442.23 1318.32 L1445.6 1320.14 L1448.97 1321.65 L1452.33 1322.79 L1455.7 1323.51 L1459.07 1323.76 L1462.43 1323.48 L1465.8 1322.61 L1469.17 1321.12 L1472.53 1318.94 L1475.9 1316.02 L1479.27 1312.31 L1482.63 1307.75 L1486 1302.29 L1489.37 1295.89 L1492.73 1288.47 L1496.1 1280 L1499.47 1269.02 L1502.85 1257.02 L1506.22 1244.1 L1509.6 1230.34 L1512.97 1215.85 L1516.35 1200.71 L1519.72 1185.03 L1523.1 1168.9 L1526.47 1152.4 L1529.85 1135.65 L1533.22 1118.73 L1536.6 1101.74 L1539.97 1084.77 L1543.35 1067.92 L1546.72 1051.28 L1550.1 1034.95 L1553.47 1019.02 L1556.85 1003.59 L1560.22 988.76 L1563.6 974.61 L1566.97 961.25 L1570.35 948.76 L1573.72 937.25 L1577.1 926.8 L1580.45 919.23 L1583.81 912.77 L1587.16 907.38 L1590.52 903.04 L1593.87 899.7 L1597.22 897.33 L1600.58 895.89 L1603.93 895.34 L1607.29 895.65 L1610.64 896.79 L1614 898.71 L1617.35 901.38 L1620.7 904.76 L1624.06 908.82 L1627.41 913.52 L1630.77 918.83 L1634.12 924.7 L1637.47 931.11 L1640.83 938.01 L1644.18 945.38 L1647.54 953.16 L1650.89 961.34 L1654.25 969.86 L1657.6 978.7 L1660.99 988.66 L1664.38 998.87 L1667.77 1009.28 L1671.17 1019.87 L1674.56 1030.59 L1677.95 1041.4 L1681.34 1052.27 L1684.73 1063.16 L1688.12 1074.03 L1691.52 1084.84 L1694.91 1095.56 L1698.3 1106.14 L1701.69 1116.54 L1705.08 1126.74 L1708.47 1136.69 L1711.87 1146.36 L1715.26 1155.7 L1718.65 1164.67 L1722.04 1173.25 L1725.43 1181.39 L1728.83 1189.05 L1732.22 1196.2 L1735.61 1202.8 L1739 1208.8 L1742.38 1213.18 L1745.75 1216.96 L1749.12 1220.17 L1752.5 1222.84 L1755.88 1224.98 L1759.25 1226.64 L1762.62 1227.82 L1766 1228.57 L1769.38 1228.9 L1772.75 1228.84 L1776.12 1228.42 L1779.5 1227.66 L1782.88 1226.59 L1786.25 1225.24 L1789.62 1223.62 L1793 1221.78 L1796.38 1219.72 L1799.75 1217.48 L1803.12 1215.09 L1806.5 1212.57 L1809.88 1209.94 L1813.25 1207.24 L1816.62 1204.48 L1820 1201.7" stroke="#ff0000" stroke-width="2.0" fill="none" stroke-linejoin="round"/>
<circle cx="1253.1" cy="1270.1" r="6.8" fill="#ff0000" stroke="#000" stroke-width="1.8"/>
<circle cx="1334.6" cy="1271.2" r="6.8" fill="#ff0000" stroke="#000" stroke-width="1.8"/>
<circle cx="1415.3" cy="1298.8" r="6.8" fill="#ff0000" stroke="#000" stroke-width="1.8"/>
<circle cx="1496.1" cy="1280" r="6.8" fill="#ff0000" stroke="#000" stroke-width="1.8"/>
<circle cx="1577.1" cy="926.8" r="6.8" fill="#ff0000" stroke="#000" stroke-width="1.8"/>
<circle cx="1657.6" cy="978.7" r="6.8" fill="#ff0000" stroke="#000" stroke-width="1.8"/>
<circle cx="1739" cy="1208.8" r="6.8" fill="#ff0000" stroke="#000" stroke-width="1.8"/>
<circle cx="1820" cy="1201.7" r="6.8" fill="#ff0000" stroke="#000" stroke-width="1.8"/>
<path d="M1141.3 820.6 H1910 M1141.3 1372.2 H1910 M1141.3 820.6 V1372.2 M1910 820.6 V1372.2" stroke="#000" stroke-width="2.0" fill="none" stroke-linecap="square"/>
<path d="M1219.03 1372.2 V1381.2 M1305.4 1372.2 V1381.2 M1391.78 1372.2 V1381.2 M1478.15 1372.2 V1381.2 M1564.52 1372.2 V1381.2 M1650.89 1372.2 V1381.2 M1737.26 1372.2 V1381.2 M1823.63 1372.2 V1381.2 M1910 1372.2 V1381.2 M1132.3 1372.2 H1141.3 M1132.3 1280.27 H1141.3 M1132.3 1188.33 H1141.3 M1132.3 1096.4 H1141.3 M1132.3 1004.47 H1141.3 M1132.3 912.53 H1141.3 M1132.3 820.6 H1141.3 M1910 1371.8 H1919 M1910 1261.56 H1919 M1910 1151.32 H1919 M1910 1041.08 H1919 M1910 930.84 H1919 M1910 820.6 H1919" stroke="#000" stroke-width="2.0" fill="none"/>
<polygon points="1246.5,1373.2 1246.5,1370.5 1246.67,1368.62 1246.9,1365.95 1247.18,1362.82 1247.48,1359.58 1247.79,1356.57 1248.07,1354.12 1248.37,1352.2 1248.7,1350.5 1249.04,1349.04 1249.35,1347.8 1249.61,1346.79 1249.8,1346 1250.45,1344.98 1251.29,1343.66 1252.32,1342.05 1253.52,1340.18 1254.89,1338.07 1256.42,1335.72 1258.12,1333.11 1259.99,1330.19 1262.03,1327.03 1264.23,1323.68 1266.61,1320.2 1269.15,1316.65 1271.9,1312.99 1274.87,1309.16 1278.01,1305.2 1281.27,1301.14 1284.61,1297.02 1287.98,1292.88 1291.41,1288.7 1294.95,1284.47 1298.57,1280.19 1302.23,1275.83 1305.91,1271.39 1309.57,1266.88 1313.23,1262.27 1316.91,1257.58 1320.61,1252.81 1324.31,1247.97 1328.01,1243.08 1331.7,1238.12 1335.38,1233.12 1339.07,1228.05 1342.75,1222.92 1346.43,1217.72 1350.12,1212.47 1353.8,1207.15 1357.48,1201.76 1361.17,1196.31 1364.85,1190.79 1368.53,1185.22 1372.22,1179.6 1375.9,1173.95 1379.59,1168.26 1383.27,1162.52 1386.96,1156.73 1390.65,1150.9 1394.34,1145.02 1398.03,1139.1 1401.72,1133.12 1405.41,1127.1 1409.1,1121.02 1412.79,1114.91 1416.48,1108.77 1420.18,1102.6 1423.86,1096.36 1427.55,1090.03 1431.24,1083.66 1434.93,1077.33 1438.61,1071.09 1442.3,1065 1445.98,1059.02 1449.67,1053.1 1453.35,1047.26 1457.03,1041.56 1460.72,1036.03 1464.4,1030.7 1468.09,1025.6 1471.78,1020.71 1475.48,1015.98 1479.17,1011.39 1482.85,1006.9 1486.53,1002.48 1490.19,998.15 1493.86,993.96 1497.51,989.88 1501.16,985.86 1504.79,981.87 1508.4,977.88 1512.23,973.63 1516.33,969.1 1520.42,964.6 1524.2,960.44 1527.39,956.94 1529.7,954.4 1529.97,955.88 1530.34,957.8 1530.79,960.14 1531.27,962.86 1531.77,965.94 1532.25,969.35 1532.72,973.2 1533.19,977.52 1533.68,982.21 1534.19,987.13 1534.72,992.14 1535.27,997.13 1535.86,1002.17 1536.48,1007.39 1537.12,1012.7 1537.77,1018.05 1538.45,1023.34 1539.15,1028.5 1539.87,1033.53 1540.61,1038.47 1541.37,1043.37 1542.15,1048.24 1542.93,1053.11 1543.73,1058 1544.52,1062.93 1545.33,1067.86 1546.14,1072.8 1546.97,1077.72 1547.81,1082.63 1548.67,1087.5 1549.56,1092.35 1550.46,1097.19 1551.38,1102.01 1552.31,1106.8 1553.25,1111.55 1554.2,1116.25 1555.16,1120.9 1556.12,1125.5 1557.1,1130.07 1558.09,1134.6 1559.09,1139.08 1560.1,1143.53 1561.11,1147.93 1562.12,1152.3 1563.14,1156.62 1564.19,1160.9 1565.26,1165.15 1566.37,1169.35 1567.53,1173.51 1568.72,1177.63 1569.94,1181.71 1571.19,1185.74 1572.46,1189.74 1573.77,1193.7 1575.08,1197.57 1576.36,1201.34 1577.67,1205.06 1579.07,1208.81 1580.58,1212.65 1582.28,1216.63 1584.09,1220.73 1585.97,1224.89 1587.98,1229.15 1590.17,1233.5 1592.59,1237.97 1595.3,1242.58 1598.33,1247.41 1601.66,1252.47 1605.21,1257.65 1608.95,1262.83 1612.79,1267.9 1616.7,1272.75 1620.72,1277.43 1624.92,1282.04 1629.24,1286.55 1633.61,1290.9 1637.99,1295.06 1642.3,1298.97 1646.56,1302.64 1650.83,1306.09 1655.09,1309.33 1659.35,1312.41 1663.61,1315.35 1667.88,1318.17 1672.13,1320.85 1676.39,1323.37 1680.65,1325.73 1684.91,1327.99 1689.17,1330.15 1693.43,1332.25 1697.69,1334.26 1701.95,1336.15 1706.21,1337.96 1710.47,1339.7 1714.74,1341.4 1719,1343.1 1723.26,1344.79 1727.53,1346.44 1731.79,1348.07 1736.05,1349.65 1740.31,1351.19 1744.57,1352.67 1748.86,1354.12 1753.19,1355.54 1757.51,1356.9 1761.8,1358.22 1766.01,1359.48 1770.12,1360.68 1774.17,1361.8 1778.17,1362.87 1782.11,1363.88 1785.94,1364.83 1789.64,1365.73 1793.15,1366.57 1796.64,1367.39 1800.17,1368.18 1803.56,1368.91 1806.63,1369.56 1809.21,1370.1 1811.1,1370.5 1811.1,1373.2" fill="#b3b3b3" fill-opacity="0.2235"/>
<polyline points="1246.5,1370.5 1246.67,1368.62 1246.9,1365.95 1247.18,1362.82 1247.48,1359.58 1247.79,1356.57 1248.07,1354.12 1248.37,1352.2 1248.7,1350.5 1249.04,1349.04 1249.35,1347.8 1249.61,1346.79 1249.8,1346 1250.45,1344.98 1251.29,1343.66 1252.32,1342.05 1253.52,1340.18 1254.89,1338.07 1256.42,1335.72 1258.12,1333.11 1259.99,1330.19 1262.03,1327.03 1264.23,1323.68 1266.61,1320.2 1269.15,1316.65 1271.9,1312.99 1274.87,1309.16 1278.01,1305.2 1281.27,1301.14 1284.61,1297.02 1287.98,1292.88 1291.41,1288.7 1294.95,1284.47 1298.57,1280.19 1302.23,1275.83 1305.91,1271.39 1309.57,1266.88 1313.23,1262.27 1316.91,1257.58 1320.61,1252.81 1324.31,1247.97 1328.01,1243.08 1331.7,1238.12 1335.38,1233.12 1339.07,1228.05 1342.75,1222.92 1346.43,1217.72 1350.12,1212.47 1353.8,1207.15 1357.48,1201.76 1361.17,1196.31 1364.85,1190.79 1368.53,1185.22 1372.22,1179.6 1375.9,1173.95 1379.59,1168.26 1383.27,1162.52 1386.96,1156.73 1390.65,1150.9 1394.34,1145.02 1398.03,1139.1 1401.72,1133.12 1405.41,1127.1 1409.1,1121.02 1412.79,1114.91 1416.48,1108.77 1420.18,1102.6 1423.86,1096.36 1427.55,1090.03 1431.24,1083.66 1434.93,1077.33 1438.61,1071.09 1442.3,1065 1445.98,1059.02 1449.67,1053.1 1453.35,1047.26 1457.03,1041.56 1460.72,1036.03 1464.4,1030.7 1468.09,1025.6 1471.78,1020.71 1475.48,1015.98 1479.17,1011.39 1482.85,1006.9 1486.53,1002.48 1490.19,998.15 1493.86,993.96 1497.51,989.88 1501.16,985.86 1504.79,981.87 1508.4,977.88 1512.23,973.63 1516.33,969.1 1520.42,964.6 1524.2,960.44 1527.39,956.94 1529.7,954.4 1529.97,955.88 1530.34,957.8 1530.79,960.14 1531.27,962.86 1531.77,965.94 1532.25,969.35 1532.72,973.2 1533.19,977.52 1533.68,982.21 1534.19,987.13 1534.72,992.14 1535.27,997.13 1535.86,1002.17 1536.48,1007.39 1537.12,1012.7 1537.77,1018.05 1538.45,1023.34 1539.15,1028.5 1539.87,1033.53 1540.61,1038.47 1541.37,1043.37 1542.15,1048.24 1542.93,1053.11 1543.73,1058 1544.52,1062.93 1545.33,1067.86 1546.14,1072.8 1546.97,1077.72 1547.81,1082.63 1548.67,1087.5 1549.56,1092.35 1550.46,1097.19 1551.38,1102.01 1552.31,1106.8 1553.25,1111.55 1554.2,1116.25 1555.16,1120.9 1556.12,1125.5 1557.1,1130.07 1558.09,1134.6 1559.09,1139.08 1560.1,1143.53 1561.11,1147.93 1562.12,1152.3 1563.14,1156.62 1564.19,1160.9 1565.26,1165.15 1566.37,1169.35 1567.53,1173.51 1568.72,1177.63 1569.94,1181.71 1571.19,1185.74 1572.46,1189.74 1573.77,1193.7 1575.08,1197.57 1576.36,1201.34 1577.67,1205.06 1579.07,1208.81 1580.58,1212.65 1582.28,1216.63 1584.09,1220.73 1585.97,1224.89 1587.98,1229.15 1590.17,1233.5 1592.59,1237.97 1595.3,1242.58 1598.33,1247.41 1601.66,1252.47 1605.21,1257.65 1608.95,1262.83 1612.79,1267.9 1616.7,1272.75 1620.72,1277.43 1624.92,1282.04 1629.24,1286.55 1633.61,1290.9 1637.99,1295.06 1642.3,1298.97 1646.56,1302.64 1650.83,1306.09 1655.09,1309.33 1659.35,1312.41 1663.61,1315.35 1667.88,1318.17 1672.13,1320.85 1676.39,1323.37 1680.65,1325.73 1684.91,1327.99 1689.17,1330.15 1693.43,1332.25 1697.69,1334.26 1701.95,1336.15 1706.21,1337.96 1710.47,1339.7 1714.74,1341.4 1719,1343.1 1723.26,1344.79 1727.53,1346.44 1731.79,1348.07 1736.05,1349.65 1740.31,1351.19 1744.57,1352.67 1748.86,1354.12 1753.19,1355.54 1757.51,1356.9 1761.8,1358.22 1766.01,1359.48 1770.12,1360.68 1774.17,1361.8 1778.17,1362.87 1782.11,1363.88 1785.94,1364.83 1789.64,1365.73 1793.15,1366.57 1796.64,1367.39 1800.17,1368.18 1803.56,1368.91 1806.63,1369.56 1809.21,1370.1 1811.1,1370.5" fill="none" stroke="#fff" stroke-width="1.6"/>
<text x="1219.03" y="1409.4" font-size="22" text-anchor="middle">0</text>
<text x="1305.4" y="1409.4" font-size="22" text-anchor="middle">200</text>
<text x="1391.78" y="1409.4" font-size="22" text-anchor="middle">400</text>
<text x="1478.15" y="1409.4" font-size="22" text-anchor="middle">600</text>
<text x="1564.52" y="1409.4" font-size="22" text-anchor="middle">800</text>
<text x="1650.89" y="1409.4" font-size="22" text-anchor="middle">1000</text>
<text x="1737.26" y="1409.4" font-size="22" text-anchor="middle">1200</text>
<text x="1823.63" y="1409.4" font-size="22" text-anchor="middle">1400</text>
<text x="1910" y="1409.4" font-size="22" text-anchor="middle">1600</text>
<text x="1122" y="1379.4" font-size="22" text-anchor="end">0,000</text>
<text x="1122" y="1287.47" font-size="22" text-anchor="end">0,005</text>
<text x="1122" y="1195.53" font-size="22" text-anchor="end">0,010</text>
<text x="1122" y="1103.6" font-size="22" text-anchor="end">0,015</text>
<text x="1122" y="1011.67" font-size="22" text-anchor="end">0,020</text>
<text x="1122" y="919.73" font-size="22" text-anchor="end">0,025</text>
<text x="1122" y="827.8" font-size="22" text-anchor="end">0,030</text>
<text x="1928.2" y="1379" font-size="22" text-anchor="start">5</text>
<text x="1928.2" y="1268.76" font-size="22" text-anchor="start">10</text>
<text x="1928.2" y="1158.52" font-size="22" text-anchor="start">15</text>
<text x="1928.2" y="1048.28" font-size="22" text-anchor="start">20</text>
<text x="1928.2" y="938.04" font-size="22" text-anchor="start">25</text>
<text x="1928.2" y="827.8" font-size="22" text-anchor="start">30</text>
<text x="1525.4" y="781.6" font-size="30.4" text-anchor="middle">Rabbit 4</text>
<text x="1524.2" y="1457.7" font-size="26" text-anchor="middle">t (ms)</text>
<text transform="translate(1033.8 1096.4) rotate(-90)" font-size="27" text-anchor="middle">F<tspan font-size="18" dy="9.6">R/D</tspan></text>
<text transform="translate(1995 1096.4) rotate(-90)" font-size="26.5" text-anchor="middle">P<tspan font-size="17" dy="9.3">TRACH</tspan><tspan dy="-9.3" dx="0">(cmH</tspan><tspan font-size="17" dy="9.3">2</tspan><tspan dy="-9.3">O)</tspan></text>
<rect x="1745" y="826.9" width="155.4" height="124.1" fill="#fff" stroke="#000" stroke-width="2"/>
<path d="M1760 857.5 H1810" stroke="#00ff00" stroke-width="2.0"/>
<polygon points="1785,850.03 1778.7,861.23 1791.3,861.23" fill="#00ff00" stroke="#000" stroke-width="1.8"/>
<text x="1820.9" y="861.7" font-size="22.3">F<tspan font-size="14.3" dy="6.3">R</tspan></text>
<path d="M1760 888.1 H1810" stroke="#ff0000" stroke-width="2.0"/>
<circle cx="1785" cy="888.1" r="6.8" fill="#ff0000" stroke="#000" stroke-width="1.8"/>
<text x="1820.9" y="892.3" font-size="22.3">F<tspan font-size="14.3" dy="6.3">D</tspan></text>
<rect x="1761.2" y="913.2" width="47.6" height="14.6" fill="#b3b3b3" fill-opacity="0.2235"/>
<text x="1820.9" y="922.7" font-size="22.3">P<tspan font-size="14.3" dy="6.3">TRACH</tspan></text>
<path d="M182 2145.6 V1592.6 M253.33 2145.6 V1592.6 M324.67 2145.6 V1592.6 M396 2145.6 V1592.6 M467.34 2145.6 V1592.6 M538.67 2145.6 V1592.6 M610 2145.6 V1592.6 M681.34 2145.6 V1592.6 M752.67 2145.6 V1592.6 M824.01 2145.6 V1592.6 M120.6 2038 H894 M120.6 1926.4 H894 M120.6 1814.8 H894 M120.6 1703.2 H894" stroke="#4a4a4a" stroke-width="1.6" stroke-dasharray="1.6 4.4" fill="none"/>
<path d="M209.9 2008.8 L212.65 1997.47 L215.39 1986.17 L218.14 1974.96 L220.88 1963.86 L223.63 1952.92 L226.38 1942.17 L229.12 1931.67 L231.87 1921.43 L234.61 1911.51 L237.36 1901.95 L240.1 1892.78 L242.85 1884.04 L245.6 1875.77 L248.34 1868.01 L251.09 1860.81 L253.83 1854.19 L256.58 1848.2 L259.32 1842.88 L262.07 1838.27 L264.82 1834.41 L267.56 1831.33 L270.31 1829.07 L273.05 1827.68 L275.8 1827.2 L278.52 1828.87 L281.24 1831.39 L283.96 1834.69 L286.68 1838.67 L289.4 1843.28 L292.12 1848.42 L294.85 1854.02 L297.57 1860.01 L300.29 1866.31 L303.01 1872.84 L305.73 1879.52 L308.45 1886.28 L311.17 1893.03 L313.89 1899.71 L316.61 1906.23 L319.33 1912.51 L322.05 1918.49 L324.78 1924.07 L327.5 1929.19 L330.22 1933.77 L332.94 1937.73 L335.66 1940.99 L338.38 1943.47 L341.1 1945.1 L343.85 1944.96 L346.59 1943.94 L349.34 1942.13 L352.08 1939.6 L354.83 1936.43 L357.58 1932.69 L360.32 1928.45 L363.07 1923.81 L365.81 1918.82 L368.56 1913.56 L371.3 1908.12 L374.05 1902.56 L376.8 1896.97 L379.54 1891.42 L382.29 1885.98 L385.03 1880.73 L387.78 1875.75 L390.52 1871.11 L393.27 1866.89 L396.02 1863.16 L398.76 1860 L401.51 1857.49 L404.25 1855.69 L407 1854.7 L409.73 1855.49 L412.46 1857.09 L415.19 1859.45 L417.92 1862.51 L420.65 1866.23 L423.38 1870.54 L426.1 1875.39 L428.83 1880.73 L431.56 1886.52 L434.29 1892.69 L437.02 1899.19 L439.75 1905.97 L442.48 1912.97 L445.21 1920.15 L447.94 1927.45 L450.67 1934.82 L453.4 1942.2 L456.12 1949.54 L458.85 1956.79 L461.58 1963.89 L464.31 1970.8 L467.04 1977.45 L469.77 1983.81 L472.5 1989.8 L475.25 1995.1 L478 2000 L480.75 2004.52 L483.5 2008.68 L486.25 2012.5 L489 2015.99 L491.75 2019.18 L494.5 2022.08 L497.25 2024.72 L500 2027.1 L502.75 2029.25 L505.5 2031.19 L508.25 2032.94 L511 2034.5 L513.75 2035.92 L516.5 2037.19 L519.25 2038.34 L522 2039.39 L524.75 2040.36 L527.5 2041.27 L530.25 2042.12 L533 2042.95 L535.75 2043.77 L538.5 2044.6 L541.22 2045.28 L543.93 2045.98 L546.65 2046.7 L549.37 2047.43 L552.08 2048.18 L554.8 2048.93 L557.52 2049.69 L560.23 2050.45 L562.95 2051.2 L565.67 2051.94 L568.38 2052.67 L571.1 2053.39 L573.82 2054.08 L576.53 2054.75 L579.25 2055.39 L581.97 2055.99 L584.68 2056.56 L587.4 2057.09 L590.12 2057.58 L592.83 2058.02 L595.55 2058.4 L598.27 2058.73 L600.98 2059 L603.7 2059.2 L606.43 2059.26 L609.17 2059.25 L611.9 2059.18 L614.63 2059.06 L617.37 2058.89 L620.1 2058.69 L622.83 2058.44 L625.57 2058.17 L628.3 2057.87 L631.03 2057.55 L633.77 2057.22 L636.5 2056.88 L639.23 2056.54 L641.97 2056.2 L644.7 2055.87 L647.43 2055.55 L650.17 2055.26 L652.9 2054.99 L655.63 2054.75 L658.37 2054.54 L661.1 2054.38 L663.83 2054.26 L666.57 2054.2 L669.3 2054.2 L672.03 2054.33 L674.76 2054.52 L677.49 2054.76 L680.22 2055.06 L682.95 2055.4 L685.67 2055.79 L688.4 2056.22 L691.13 2056.69 L693.86 2057.18 L696.59 2057.71 L699.32 2058.26 L702.05 2058.83 L704.78 2059.41 L707.51 2060.01 L710.24 2060.62 L712.97 2061.23 L715.7 2061.84 L718.42 2062.45 L721.15 2063.05 L723.88 2063.64 L726.61 2064.21 L729.34 2064.77 L732.07 2065.3 L734.8 2065.8 L737.55 2066.25 L740.31 2066.67 L743.06 2067.06 L745.82 2067.42 L748.57 2067.75 L751.32 2068.06 L754.08 2068.34 L756.83 2068.6 L759.59 2068.85 L762.34 2069.07 L765.1 2069.27 L767.85 2069.45 L770.6 2069.62 L773.36 2069.77 L776.11 2069.92 L778.87 2070.04 L781.62 2070.16 L784.38 2070.27 L787.13 2070.37 L789.88 2070.46 L792.64 2070.55 L795.39 2070.64 L798.15 2070.72 L800.9 2070.8" stroke="#00ff00" stroke-width="2.0" fill="none" stroke-linejoin="round"/>
<polygon points="209.9,2001.33 203.6,2012.53 216.2,2012.53" fill="#00ff00" stroke="#000" stroke-width="1.8"/>
<polygon points="275.8,1819.73 269.5,1830.93 282.1,1830.93" fill="#00ff00" stroke="#000" stroke-width="1.8"/>
<polygon points="341.1,1937.63 334.8,1948.83 347.4,1948.83" fill="#00ff00" stroke="#000" stroke-width="1.8"/>
<polygon points="407,1847.23 400.7,1858.43 413.3,1858.43" fill="#00ff00" stroke="#000" stroke-width="1.8"/>
<polygon points="472.5,1982.33 466.2,1993.53 478.8,1993.53" fill="#00ff00" stroke="#000" stroke-width="1.8"/>
<polygon points="538.5,2037.13 532.2,2048.33 544.8,2048.33" fill="#00ff00" stroke="#000" stroke-width="1.8"/>
<polygon points="603.7,2051.73 597.4,2062.93 610,2062.93" fill="#00ff00" stroke="#000" stroke-width="1.8"/>
<polygon points="669.3,2046.73 663,2057.93 675.6,2057.93" fill="#00ff00" stroke="#000" stroke-width="1.8"/>
<polygon points="734.8,2058.33 728.5,2069.53 741.1,2069.53" fill="#00ff00" stroke="#000" stroke-width="1.8"/>
<polygon points="800.9,2063.33 794.6,2074.53 807.2,2074.53" fill="#00ff00" stroke="#000" stroke-width="1.8"/>
<path d="M209.9 2071.2 L212.62 2071.57 L215.34 2071.93 L218.06 2072.29 L220.78 2072.64 L223.5 2072.99 L226.22 2073.33 L228.95 2073.65 L231.67 2073.96 L234.39 2074.25 L237.11 2074.52 L239.83 2074.77 L242.55 2075 L245.27 2075.2 L247.99 2075.38 L250.71 2075.53 L253.43 2075.64 L256.15 2075.73 L258.88 2075.78 L261.6 2075.79 L264.32 2075.76 L267.04 2075.68 L269.76 2075.57 L272.48 2075.41 L275.2 2075.2 L277.95 2074.84 L280.69 2074.43 L283.44 2073.97 L286.18 2073.46 L288.93 2072.91 L291.68 2072.31 L294.42 2071.67 L297.17 2070.99 L299.91 2070.26 L302.66 2069.49 L305.4 2068.69 L308.15 2067.84 L310.9 2066.96 L313.64 2066.05 L316.39 2065.1 L319.13 2064.12 L321.88 2063.1 L324.62 2062.06 L327.37 2060.98 L330.12 2059.88 L332.86 2058.75 L335.61 2057.59 L338.35 2056.41 L341.1 2055.2 L343.83 2054.09 L346.56 2052.98 L349.29 2051.89 L352.02 2050.82 L354.75 2049.8 L357.48 2048.84 L360.2 2047.97 L362.93 2047.19 L365.66 2046.53 L368.39 2046.01 L371.12 2045.63 L373.85 2045.43 L376.58 2045.41 L379.31 2045.59 L382.04 2045.99 L384.77 2046.63 L387.5 2047.53 L390.23 2048.7 L392.95 2050.16 L395.68 2051.92 L398.41 2054.01 L401.14 2056.44 L403.87 2059.23 L406.6 2062.4 L409.35 2065.9 L412.09 2069.7 L414.84 2073.73 L417.58 2077.89 L420.33 2082.1 L423.08 2086.26 L425.82 2090.3 L428.57 2094.11 L431.31 2097.61 L434.06 2100.72 L436.8 2103.34 L439.55 2105.38 L442.3 2106.77 L445.04 2107.4 L447.79 2107.2 L450.53 2106.06 L453.28 2103.91 L456.02 2100.66 L458.77 2096.21 L461.52 2090.49 L464.26 2083.39 L467.01 2074.84 L469.75 2064.74 L472.5 2053 L475.25 2037.81 L478 2021.08 L480.75 2002.97 L483.5 1983.67 L486.25 1963.37 L489 1942.22 L491.75 1920.43 L494.5 1898.16 L497.25 1875.59 L500 1852.91 L502.75 1830.29 L505.5 1807.91 L508.25 1785.95 L511 1764.59 L513.75 1744.01 L516.5 1724.39 L519.25 1705.91 L522 1688.74 L524.75 1673.07 L527.5 1659.07 L530.25 1646.92 L533 1636.81 L535.75 1628.91 L538.5 1623.4 L541.22 1623.41 L543.93 1625.75 L546.65 1630.25 L549.37 1636.74 L552.08 1645.04 L554.8 1654.98 L557.52 1666.38 L560.23 1679.07 L562.95 1692.88 L565.67 1707.64 L568.38 1723.16 L571.1 1739.28 L573.82 1755.81 L576.53 1772.6 L579.25 1789.46 L581.97 1806.22 L584.68 1822.7 L587.4 1838.74 L590.12 1854.15 L592.83 1868.77 L595.55 1882.42 L598.27 1894.92 L600.98 1906.11 L603.7 1915.8 L606.43 1922.54 L609.17 1927.7 L611.9 1931.41 L614.63 1933.78 L617.37 1934.93 L620.1 1934.97 L622.83 1934.01 L625.57 1932.17 L628.3 1929.58 L631.03 1926.33 L633.77 1922.55 L636.5 1918.36 L639.23 1913.86 L641.97 1909.18 L644.7 1904.43 L647.43 1899.72 L650.17 1895.17 L652.9 1890.9 L655.63 1887.01 L658.37 1883.64 L661.1 1880.88 L663.83 1878.86 L666.57 1877.7 L669.3 1877.5 L672.03 1879.22 L674.76 1881.95 L677.49 1885.61 L680.22 1890.13 L682.95 1895.44 L685.67 1901.46 L688.4 1908.12 L691.13 1915.35 L693.86 1923.07 L696.59 1931.22 L699.32 1939.7 L702.05 1948.47 L704.78 1957.43 L707.51 1966.52 L710.24 1975.66 L712.97 1984.79 L715.7 1993.82 L718.42 2002.69 L721.15 2011.32 L723.88 2019.63 L726.61 2027.56 L729.34 2035.03 L732.07 2041.97 L734.8 2048.3 L737.55 2053.28 L740.31 2057.6 L743.06 2061.28 L745.82 2064.36 L748.57 2066.87 L751.32 2068.82 L754.08 2070.26 L756.83 2071.21 L759.59 2071.7 L762.34 2071.75 L765.1 2071.41 L767.85 2070.68 L770.6 2069.62 L773.36 2068.23 L776.11 2066.56 L778.87 2064.63 L781.62 2062.47 L784.38 2060.1 L787.13 2057.57 L789.88 2054.89 L792.64 2052.09 L795.39 2049.21 L798.15 2046.27 L800.9 2043.3" stroke="#ff0000" stroke-width="2.0" fill="none" stroke-linejoin="round"/>
<circle cx="209.9" cy="2071.2" r="6.8" fill="#ff0000" stroke="#000" stroke-width="1.8"/>
<circle cx="275.2" cy="2075.2" r="6.8" fill="#ff0000" stroke="#000" stroke-width="1.8"/>
<circle cx="341.1" cy="2055.2" r="6.8" fill="#ff0000" stroke="#000" stroke-width="1.8"/>
<circle cx="406.6" cy="2062.4" r="6.8" fill="#ff0000" stroke="#000" stroke-width="1.8"/>
<circle cx="472.5" cy="2053" r="6.8" fill="#ff0000" stroke="#000" stroke-width="1.8"/>
<circle cx="538.5" cy="1623.4" r="6.8" fill="#ff0000" stroke="#000" stroke-width="1.8"/>
<circle cx="603.7" cy="1915.8" r="6.8" fill="#ff0000" stroke="#000" stroke-width="1.8"/>
<circle cx="669.3" cy="1877.5" r="6.8" fill="#ff0000" stroke="#000" stroke-width="1.8"/>
<circle cx="734.8" cy="2048.3" r="6.8" fill="#ff0000" stroke="#000" stroke-width="1.8"/>
<circle cx="800.9" cy="2043.3" r="6.8" fill="#ff0000" stroke="#000" stroke-width="1.8"/>
<path d="M116.6 1591.6 H895 M116.6 2149.6 H895 M116.6 1591.6 V2149.6 M895 1591.6 V2149.6" stroke="#000" stroke-width="2.0" fill="none" stroke-linecap="square"/>
<path d="M182 2149.6 V2158.6 M253.33 2149.6 V2158.6 M324.67 2149.6 V2158.6 M396 2149.6 V2158.6 M467.34 2149.6 V2158.6 M538.67 2149.6 V2158.6 M610 2149.6 V2158.6 M681.34 2149.6 V2158.6 M752.67 2149.6 V2158.6 M824.01 2149.6 V2158.6 M895.34 2149.6 V2158.6 M107.6 2086.4 H116.6 M107.6 2015.72 H116.6 M107.6 1945.04 H116.6 M107.6 1874.36 H116.6 M107.6 1803.68 H116.6 M107.6 1733 H116.6 M107.6 1662.32 H116.6 M107.6 1591.64 H116.6 M895 2149.6 H904 M895 2038 H904 M895 1926.4 H904 M895 1814.8 H904 M895 1703.2 H904 M895 1591.6 H904" stroke="#000" stroke-width="2.0" fill="none"/>
<polygon points="181.3,2150.6 181.3,2146.4 182.57,2145.83 184.37,2145.11 186.47,2144.23 188.68,2143.15 190.79,2141.83 192.58,2140.25 194.03,2138.37 195.31,2136.21 196.49,2133.83 197.63,2131.25 198.78,2128.54 200,2125.75 201.22,2122.95 202.37,2120.12 203.54,2117.16 204.81,2113.96 206.26,2110.41 207.98,2106.4 209.96,2101.95 212.13,2097.15 214.49,2092 217.02,2086.51 219.71,2080.68 222.55,2074.53 225.62,2067.86 228.93,2060.64 232.41,2053.09 235.96,2045.41 239.48,2037.84 242.88,2030.58 246.22,2023.5 249.61,2016.41 252.96,2009.41 256.23,2002.62 259.35,1996.16 262.25,1990.13 264.92,1984.59 267.4,1979.49 269.73,1974.7 271.95,1970.13 274.07,1965.66 276.15,1961.2 278.14,1956.83 280.01,1952.67 281.79,1948.61 283.52,1944.56 285.24,1940.44 286.97,1936.15 288.72,1931.66 290.43,1927.04 292.14,1922.34 293.83,1917.62 295.53,1912.93 297.25,1908.33 298.94,1903.83 300.58,1899.4 302.22,1895.01 303.93,1890.61 305.73,1886.18 307.7,1881.68 309.8,1877.14 311.98,1872.62 314.27,1868.05 316.69,1863.41 319.26,1858.63 322,1853.67 324.92,1848.54 328,1843.25 331.24,1837.84 334.62,1832.31 338.13,1826.68 341.78,1820.97 345.54,1815.18 349.44,1809.28 353.47,1803.28 357.65,1797.18 361.98,1791 366.47,1784.72 371.17,1778.29 376.06,1771.69 381.11,1764.99 386.26,1758.29 391.48,1751.65 396.7,1745.17 402.02,1738.76 407.5,1732.31 413.03,1725.94 418.53,1719.74 423.89,1713.81 429.02,1708.25 433.98,1703.02 438.84,1698.04 443.56,1693.33 448.11,1688.91 452.46,1684.79 456.55,1681 460.37,1677.61 463.95,1674.62 467.32,1671.94 470.51,1669.47 473.56,1667.11 476.5,1664.77 479.3,1662.54 481.94,1660.5 484.43,1658.58 486.81,1656.69 489.09,1654.74 491.3,1652.65 493.53,1650.25 495.77,1647.56 497.93,1644.82 499.87,1642.24 501.5,1640.06 502.7,1638.5 503.02,1642.68 503.46,1648.32 503.98,1655.08 504.56,1662.58 505.16,1670.49 505.77,1678.45 506.38,1686.65 506.99,1695.41 507.63,1704.58 508.32,1713.98 509.08,1723.46 509.92,1732.85 510.83,1742.22 511.79,1751.71 512.81,1761.28 513.92,1770.88 515.14,1780.46 516.47,1789.97 517.94,1799.42 519.51,1808.84 521.19,1818.24 522.96,1827.63 524.84,1837.02 526.8,1846.43 528.86,1855.9 531.04,1865.45 533.3,1875.01 535.65,1884.48 538.08,1893.81 540.58,1902.9 543.14,1911.82 545.77,1920.63 548.48,1929.28 551.27,1937.74 554.13,1945.94 557.08,1953.85 560.08,1961.44 563.16,1968.76 566.31,1975.83 569.55,1982.67 572.88,1989.33 576.33,1995.82 579.87,2002.14 583.52,2008.24 587.26,2014.15 591.09,2019.89 595.02,2025.47 599.05,2030.93 603.19,2036.26 607.46,2041.45 611.82,2046.5 616.25,2051.37 620.72,2056.05 625.2,2060.53 629.71,2064.77 634.27,2068.81 638.88,2072.65 643.5,2076.32 648.12,2079.84 652.73,2083.23 657.32,2086.44 661.91,2089.47 666.5,2092.34 671.09,2095.1 675.68,2097.78 680.28,2100.42 684.86,2103.02 689.45,2105.52 694.04,2107.94 698.63,2110.3 703.21,2112.62 707.8,2114.9 712.39,2117.16 716.97,2119.39 721.56,2121.58 726.15,2123.7 730.74,2125.73 735.32,2127.65 739.89,2129.48 744.42,2131.23 748.95,2132.89 753.51,2134.46 758.14,2135.93 762.88,2137.27 767.67,2138.5 772.5,2139.59 777.4,2140.58 782.4,2141.49 787.53,2142.33 792.82,2143.13 798.74,2143.88 805.35,2144.59 812.08,2145.23 818.41,2145.79 823.76,2146.25 827.6,2146.6 827.6,2150.6" fill="#b3b3b3" fill-opacity="0.2235"/>
<polyline points="181.3,2146.4 182.57,2145.83 184.37,2145.11 186.47,2144.23 188.68,2143.15 190.79,2141.83 192.58,2140.25 194.03,2138.37 195.31,2136.21 196.49,2133.83 197.63,2131.25 198.78,2128.54 200,2125.75 201.22,2122.95 202.37,2120.12 203.54,2117.16 204.81,2113.96 206.26,2110.41 207.98,2106.4 209.96,2101.95 212.13,2097.15 214.49,2092 217.02,2086.51 219.71,2080.68 222.55,2074.53 225.62,2067.86 228.93,2060.64 232.41,2053.09 235.96,2045.41 239.48,2037.84 242.88,2030.58 246.22,2023.5 249.61,2016.41 252.96,2009.41 256.23,2002.62 259.35,1996.16 262.25,1990.13 264.92,1984.59 267.4,1979.49 269.73,1974.7 271.95,1970.13 274.07,1965.66 276.15,1961.2 278.14,1956.83 280.01,1952.67 281.79,1948.61 283.52,1944.56 285.24,1940.44 286.97,1936.15 288.72,1931.66 290.43,1927.04 292.14,1922.34 293.83,1917.62 295.53,1912.93 297.25,1908.33 298.94,1903.83 300.58,1899.4 302.22,1895.01 303.93,1890.61 305.73,1886.18 307.7,1881.68 309.8,1877.14 311.98,1872.62 314.27,1868.05 316.69,1863.41 319.26,1858.63 322,1853.67 324.92,1848.54 328,1843.25 331.24,1837.84 334.62,1832.31 338.13,1826.68 341.78,1820.97 345.54,1815.18 349.44,1809.28 353.47,1803.28 357.65,1797.18 361.98,1791 366.47,1784.72 371.17,1778.29 376.06,1771.69 381.11,1764.99 386.26,1758.29 391.48,1751.65 396.7,1745.17 402.02,1738.76 407.5,1732.31 413.03,1725.94 418.53,1719.74 423.89,1713.81 429.02,1708.25 433.98,1703.02 438.84,1698.04 443.56,1693.33 448.11,1688.91 452.46,1684.79 456.55,1681 460.37,1677.61 463.95,1674.62 467.32,1671.94 470.51,1669.47 473.56,1667.11 476.5,1664.77 479.3,1662.54 481.94,1660.5 484.43,1658.58 486.81,1656.69 489.09,1654.74 491.3,1652.65 493.53,1650.25 495.77,1647.56 497.93,1644.82 499.87,1642.24 501.5,1640.06 502.7,1638.5 503.02,1642.68 503.46,1648.32 503.98,1655.08 504.56,1662.58 505.16,1670.49 505.77,1678.45 506.38,1686.65 506.99,1695.41 507.63,1704.58 508.32,1713.98 509.08,1723.46 509.92,1732.85 510.83,1742.22 511.79,1751.71 512.81,1761.28 513.92,1770.88 515.14,1780.46 516.47,1789.97 517.94,1799.42 519.51,1808.84 521.19,1818.24 522.96,1827.63 524.84,1837.02 526.8,1846.43 528.86,1855.9 531.04,1865.45 533.3,1875.01 535.65,1884.48 538.08,1893.81 540.58,1902.9 543.14,1911.82 545.77,1920.63 548.48,1929.28 551.27,1937.74 554.13,1945.94 557.08,1953.85 560.08,1961.44 563.16,1968.76 566.31,1975.83 569.55,1982.67 572.88,1989.33 576.33,1995.82 579.87,2002.14 583.52,2008.24 587.26,2014.15 591.09,2019.89 595.02,2025.47 599.05,2030.93 603.19,2036.26 607.46,2041.45 611.82,2046.5 616.25,2051.37 620.72,2056.05 625.2,2060.53 629.71,2064.77 634.27,2068.81 638.88,2072.65 643.5,2076.32 648.12,2079.84 652.73,2083.23 657.32,2086.44 661.91,2089.47 666.5,2092.34 671.09,2095.1 675.68,2097.78 680.28,2100.42 684.86,2103.02 689.45,2105.52 694.04,2107.94 698.63,2110.3 703.21,2112.62 707.8,2114.9 712.39,2117.16 716.97,2119.39 721.56,2121.58 726.15,2123.7 730.74,2125.73 735.32,2127.65 739.89,2129.48 744.42,2131.23 748.95,2132.89 753.51,2134.46 758.14,2135.93 762.88,2137.27 767.67,2138.5 772.5,2139.59 777.4,2140.58 782.4,2141.49 787.53,2142.33 792.82,2143.13 798.74,2143.88 805.35,2144.59 812.08,2145.23 818.41,2145.79 823.76,2146.25 827.6,2146.6" fill="none" stroke="#fff" stroke-width="1.6"/>
<text x="182" y="2187.5" font-size="22" text-anchor="middle">0</text>
<text x="253.33" y="2187.5" font-size="22" text-anchor="middle">200</text>
<text x="324.67" y="2187.5" font-size="22" text-anchor="middle">400</text>
<text x="396" y="2187.5" font-size="22" text-anchor="middle">600</text>
<text x="467.34" y="2187.5" font-size="22" text-anchor="middle">800</text>
<text x="538.67" y="2187.5" font-size="22" text-anchor="middle">1000</text>
<text x="610" y="2187.5" font-size="22" text-anchor="middle">1200</text>
<text x="681.34" y="2187.5" font-size="22" text-anchor="middle">1400</text>
<text x="752.67" y="2187.5" font-size="22" text-anchor="middle">1600</text>
<text x="824.01" y="2187.5" font-size="22" text-anchor="middle">1800</text>
<text x="895.34" y="2187.5" font-size="22" text-anchor="middle">2000</text>
<text x="97.3" y="2093.6" font-size="22" text-anchor="end">0,00</text>
<text x="97.3" y="2022.92" font-size="22" text-anchor="end">0,02</text>
<text x="97.3" y="1952.24" font-size="22" text-anchor="end">0,04</text>
<text x="97.3" y="1881.56" font-size="22" text-anchor="end">0,06</text>
<text x="97.3" y="1810.88" font-size="22" text-anchor="end">0,08</text>
<text x="97.3" y="1740.2" font-size="22" text-anchor="end">0,10</text>
<text x="97.3" y="1669.52" font-size="22" text-anchor="end">0,12</text>
<text x="97.3" y="1598.84" font-size="22" text-anchor="end">0,14</text>
<text x="913.2" y="2156.8" font-size="22" text-anchor="start">5</text>
<text x="913.2" y="2045.2" font-size="22" text-anchor="start">10</text>
<text x="913.2" y="1933.6" font-size="22" text-anchor="start">15</text>
<text x="913.2" y="1822" font-size="22" text-anchor="start">20</text>
<text x="913.2" y="1710.4" font-size="22" text-anchor="start">25</text>
<text x="913.2" y="1598.8" font-size="22" text-anchor="start">30</text>
<text x="506.5" y="1546.6" font-size="30.4" text-anchor="middle">Rabbit 5</text>
<text x="505.2" y="2236.7" font-size="26" text-anchor="middle">t (ms)</text>
<text transform="translate(20.7 1870.6) rotate(-90)" font-size="27" text-anchor="middle">F<tspan font-size="18" dy="9.6">R,D</tspan></text>
<text transform="translate(980 1870.6) rotate(-90)" font-size="26.5" text-anchor="middle">P<tspan font-size="17" dy="9.3">TRACH</tspan><tspan dy="-9.3" dx="0">(cmH</tspan><tspan font-size="17" dy="9.3">2</tspan><tspan dy="-9.3">O)</tspan></text>
<rect x="722.9" y="1600.1" width="157.4" height="111.7" fill="#fff" stroke="#000" stroke-width="2"/>
<path d="M738.2 1627.6 H788.1" stroke="#00ff00" stroke-width="2.0"/>
<polygon points="763.1,1620.13 756.8,1631.33 769.4,1631.33" fill="#00ff00" stroke="#000" stroke-width="1.8"/>
<text x="800.1" y="1635.1" font-size="22.3">R</text>
<path d="M738.2 1652.5 H788.1" stroke="#ff0000" stroke-width="2.0"/>
<circle cx="763.1" cy="1652.5" r="6.8" fill="#ff0000" stroke="#000" stroke-width="1.8"/>
<text x="800.1" y="1660" font-size="22.3">D</text>
<rect x="739.4" y="1673.8" width="47.5" height="14.6" fill="#b3b3b3" fill-opacity="0.2235"/>
<text x="800.1" y="1684.5" font-size="22.3">P<tspan font-size="14.3" dy="6.3">TRACH</tspan></text>
<path d="M1218.6 2143.3 V1600.6 M1295.53 2143.3 V1600.6 M1372.46 2143.3 V1600.6 M1449.39 2143.3 V1600.6 M1526.32 2143.3 V1600.6 M1603.25 2143.3 V1600.6 M1680.18 2143.3 V1600.6 M1757.11 2143.3 V1600.6 M1834.04 2143.3 V1600.6 M1152.3 2010.38 H1910.6 M1152.3 1873.45 H1910.6 M1152.3 1736.53 H1910.6" stroke="#4a4a4a" stroke-width="1.6" stroke-dasharray="1.6 4.4" fill="none"/>
<path d="M1248.8 2132.3 L1251.21 2132.38 L1253.62 2132.46 L1256.04 2132.54 L1258.45 2132.62 L1260.86 2132.71 L1263.28 2132.81 L1265.69 2132.91 L1268.1 2133.01 L1270.51 2133.12 L1272.92 2133.25 L1275.34 2133.38 L1277.75 2133.52 L1280.16 2133.67 L1282.58 2133.84 L1284.99 2134.02 L1287.4 2134.21 L1289.81 2134.42 L1292.22 2134.65 L1294.64 2134.89 L1297.05 2135.15 L1299.46 2135.43 L1301.88 2135.73 L1304.29 2136.06 L1306.7 2136.4 L1309.11 2136.77 L1311.52 2137.17 L1313.92 2137.58 L1316.33 2138 L1318.74 2138.42 L1321.15 2138.85 L1323.56 2139.28 L1325.97 2139.71 L1328.38 2140.13 L1330.78 2140.53 L1333.19 2140.92 L1335.6 2141.29 L1338.01 2141.63 L1340.42 2141.95 L1342.83 2142.23 L1345.23 2142.48 L1347.64 2142.69 L1350.05 2142.85 L1352.46 2142.97 L1354.87 2143.03 L1357.28 2143.04 L1359.68 2142.99 L1362.09 2142.88 L1364.5 2142.7 L1366.91 2142.37 L1369.32 2141.98 L1371.72 2141.54 L1374.13 2141.04 L1376.54 2140.49 L1378.95 2139.91 L1381.36 2139.3 L1383.77 2138.67 L1386.17 2138.01 L1388.58 2137.35 L1390.99 2136.69 L1393.4 2136.02 L1395.81 2135.37 L1398.22 2134.73 L1400.62 2134.12 L1403.03 2133.54 L1405.44 2133 L1407.85 2132.5 L1410.26 2132.05 L1412.67 2131.66 L1415.08 2131.33 L1417.48 2131.07 L1419.89 2130.89 L1422.3 2130.8 L1424.71 2130.88 L1427.12 2131.05 L1429.54 2131.29 L1431.95 2131.6 L1434.36 2131.97 L1436.78 2132.39 L1439.19 2132.86 L1441.6 2133.36 L1444.01 2133.89 L1446.42 2134.44 L1448.84 2135 L1451.25 2135.57 L1453.66 2136.13 L1456.08 2136.69 L1458.49 2137.22 L1460.9 2137.72 L1463.31 2138.19 L1465.72 2138.61 L1468.14 2138.99 L1470.55 2139.3 L1472.96 2139.55 L1475.38 2139.72 L1477.79 2139.8 L1480.2 2139.8 L1482.59 2139.61 L1484.98 2139.33 L1487.36 2138.98 L1489.75 2138.54 L1492.14 2138.05 L1494.53 2137.5 L1496.91 2136.9 L1499.3 2136.26 L1501.69 2135.59 L1504.08 2134.89 L1506.46 2134.18 L1508.85 2133.47 L1511.24 2132.75 L1513.62 2132.04 L1516.01 2131.35 L1518.4 2130.69 L1520.79 2130.06 L1523.17 2129.48 L1525.56 2128.94 L1527.95 2128.46 L1530.34 2128.05 L1532.72 2127.71 L1535.11 2127.46 L1537.5 2127.3 L1539.91 2127.33 L1542.32 2127.46 L1544.72 2127.67 L1547.13 2127.96 L1549.54 2128.31 L1551.95 2128.73 L1554.36 2129.21 L1556.77 2129.73 L1559.17 2130.28 L1561.58 2130.87 L1563.99 2131.48 L1566.4 2132.1 L1568.81 2132.73 L1571.22 2133.36 L1573.62 2133.98 L1576.03 2134.58 L1578.44 2135.15 L1580.85 2135.7 L1583.26 2136.2 L1585.67 2136.65 L1588.08 2137.04 L1590.48 2137.37 L1592.89 2137.63 L1595.3 2137.8 L1597.7 2137.81 L1600.11 2137.74 L1602.51 2137.59 L1604.92 2137.38 L1607.32 2137.1 L1609.72 2136.77 L1612.13 2136.39 L1614.53 2135.98 L1616.94 2135.53 L1619.34 2135.05 L1621.75 2134.56 L1624.15 2134.05 L1626.55 2133.53 L1628.96 2133.02 L1631.36 2132.52 L1633.77 2132.03 L1636.17 2131.56 L1638.58 2131.13 L1640.98 2130.72 L1643.38 2130.37 L1645.79 2130.06 L1648.19 2129.81 L1650.6 2129.62 L1653 2129.5 L1655.42 2129.53 L1657.83 2129.64 L1660.25 2129.81 L1662.67 2130.04 L1665.08 2130.33 L1667.5 2130.67 L1669.92 2131.05 L1672.33 2131.47 L1674.75 2131.92 L1677.17 2132.4 L1679.58 2132.91 L1682 2133.43 L1684.42 2133.95 L1686.83 2134.49 L1689.25 2135.02 L1691.67 2135.54 L1694.08 2136.05 L1696.5 2136.55 L1698.92 2137.02 L1701.33 2137.45 L1703.75 2137.86 L1706.17 2138.22 L1708.58 2138.54 L1711 2138.8 L1713.39 2138.94 L1715.78 2139.02 L1718.17 2139.05 L1720.57 2139.03 L1722.96 2138.96 L1725.35 2138.85 L1727.74 2138.69 L1730.13 2138.5 L1732.53 2138.26 L1734.92 2137.99 L1737.31 2137.69 L1739.7 2137.35 L1742.09 2136.99 L1744.48 2136.6 L1746.88 2136.19 L1749.27 2135.76 L1751.66 2135.3 L1754.05 2134.83 L1756.44 2134.35 L1758.83 2133.85 L1761.23 2133.35 L1763.62 2132.84 L1766.01 2132.32 L1768.4 2131.8" stroke="#00ff00" stroke-width="2.0" fill="none" stroke-linejoin="round"/>
<polygon points="1248.8,2124.83 1242.5,2136.03 1255.1,2136.03" fill="#00ff00" stroke="#000" stroke-width="1.8"/>
<polygon points="1306.7,2128.93 1300.4,2140.13 1313,2140.13" fill="#00ff00" stroke="#000" stroke-width="1.8"/>
<polygon points="1364.5,2135.23 1358.2,2146.43 1370.8,2146.43" fill="#00ff00" stroke="#000" stroke-width="1.8"/>
<polygon points="1422.3,2123.33 1416,2134.53 1428.6,2134.53" fill="#00ff00" stroke="#000" stroke-width="1.8"/>
<polygon points="1480.2,2132.33 1473.9,2143.53 1486.5,2143.53" fill="#00ff00" stroke="#000" stroke-width="1.8"/>
<polygon points="1537.5,2119.83 1531.2,2131.03 1543.8,2131.03" fill="#00ff00" stroke="#000" stroke-width="1.8"/>
<polygon points="1595.3,2130.33 1589,2141.53 1601.6,2141.53" fill="#00ff00" stroke="#000" stroke-width="1.8"/>
<polygon points="1653,2122.03 1646.7,2133.23 1659.3,2133.23" fill="#00ff00" stroke="#000" stroke-width="1.8"/>
<polygon points="1711,2131.33 1704.7,2142.53 1717.3,2142.53" fill="#00ff00" stroke="#000" stroke-width="1.8"/>
<polygon points="1768.4,2124.33 1762.1,2135.53 1774.7,2135.53" fill="#00ff00" stroke="#000" stroke-width="1.8"/>
<path d="M1248.8 2108.7 L1251.21 2110.25 L1253.62 2111.8 L1256.04 2113.34 L1258.45 2114.87 L1260.86 2116.38 L1263.28 2117.86 L1265.69 2119.32 L1268.1 2120.75 L1270.51 2122.14 L1272.92 2123.49 L1275.34 2124.79 L1277.75 2126.04 L1280.16 2127.24 L1282.58 2128.38 L1284.99 2129.45 L1287.4 2130.46 L1289.81 2131.39 L1292.22 2132.25 L1294.64 2133.02 L1297.05 2133.71 L1299.46 2134.31 L1301.88 2134.81 L1304.29 2135.21 L1306.7 2135.5 L1309.11 2135.54 L1311.52 2135.48 L1313.92 2135.33 L1316.33 2135.1 L1318.74 2134.79 L1321.15 2134.42 L1323.56 2134 L1325.97 2133.53 L1328.38 2133.02 L1330.78 2132.49 L1333.19 2131.93 L1335.6 2131.37 L1338.01 2130.8 L1340.42 2130.25 L1342.83 2129.71 L1345.23 2129.19 L1347.64 2128.71 L1350.05 2128.28 L1352.46 2127.9 L1354.87 2127.58 L1357.28 2127.33 L1359.68 2127.16 L1362.09 2127.08 L1364.5 2127.1 L1366.91 2127.32 L1369.32 2127.64 L1371.72 2128.05 L1374.13 2128.55 L1376.54 2129.11 L1378.95 2129.74 L1381.36 2130.43 L1383.77 2131.16 L1386.17 2131.94 L1388.58 2132.74 L1390.99 2133.56 L1393.4 2134.4 L1395.81 2135.25 L1398.22 2136.09 L1400.62 2136.91 L1403.03 2137.72 L1405.44 2138.5 L1407.85 2139.24 L1410.26 2139.93 L1412.67 2140.57 L1415.08 2141.14 L1417.48 2141.64 L1419.89 2142.07 L1422.3 2142.4 L1424.71 2142.54 L1427.12 2142.6 L1429.54 2142.57 L1431.95 2142.46 L1434.36 2142.28 L1436.78 2142.04 L1439.19 2141.74 L1441.6 2141.4 L1444.01 2141.01 L1446.42 2140.59 L1448.84 2140.14 L1451.25 2139.68 L1453.66 2139.19 L1456.08 2138.7 L1458.49 2138.21 L1460.9 2137.73 L1463.31 2137.27 L1465.72 2136.82 L1468.14 2136.41 L1470.55 2136.03 L1472.96 2135.69 L1475.38 2135.4 L1477.79 2135.17 L1480.2 2135 L1482.59 2134.95 L1484.98 2134.97 L1487.36 2135.04 L1489.75 2135.17 L1492.14 2135.34 L1494.53 2135.55 L1496.91 2135.8 L1499.3 2136.08 L1501.69 2136.38 L1504.08 2136.7 L1506.46 2137.03 L1508.85 2137.36 L1511.24 2137.7 L1513.62 2138.03 L1516.01 2138.35 L1518.4 2138.66 L1520.79 2138.94 L1523.17 2139.19 L1525.56 2139.41 L1527.95 2139.59 L1530.34 2139.73 L1532.72 2139.81 L1535.11 2139.84 L1537.5 2139.8 L1539.91 2139.63 L1542.32 2139.4 L1544.72 2139.12 L1547.13 2138.78 L1549.54 2138.39 L1551.95 2137.96 L1554.36 2137.49 L1556.77 2137 L1559.17 2136.48 L1561.58 2135.94 L1563.99 2135.39 L1566.4 2134.83 L1568.81 2134.27 L1571.22 2133.72 L1573.62 2133.17 L1576.03 2132.64 L1578.44 2132.13 L1580.85 2131.64 L1583.26 2131.19 L1585.67 2130.77 L1588.08 2130.4 L1590.48 2130.08 L1592.89 2129.81 L1595.3 2129.6 L1597.7 2129.52 L1600.11 2129.5 L1602.51 2129.53 L1604.92 2129.62 L1607.32 2129.75 L1609.72 2129.92 L1612.13 2130.13 L1614.53 2130.37 L1616.94 2130.64 L1619.34 2130.93 L1621.75 2131.23 L1624.15 2131.55 L1626.55 2131.88 L1628.96 2132.2 L1631.36 2132.52 L1633.77 2132.84 L1636.17 2133.14 L1638.58 2133.43 L1640.98 2133.69 L1643.38 2133.93 L1645.79 2134.13 L1648.19 2134.3 L1650.6 2134.42 L1653 2134.5 L1655.42 2134.48 L1657.83 2134.42 L1660.25 2134.31 L1662.67 2134.15 L1665.08 2133.97 L1667.5 2133.75 L1669.92 2133.5 L1672.33 2133.22 L1674.75 2132.93 L1677.17 2132.61 L1679.58 2132.29 L1682 2131.95 L1684.42 2131.61 L1686.83 2131.27 L1689.25 2130.93 L1691.67 2130.59 L1694.08 2130.27 L1696.5 2129.96 L1698.92 2129.66 L1701.33 2129.39 L1703.75 2129.15 L1706.17 2128.93 L1708.58 2128.75 L1711 2128.6 L1713.39 2128.54 L1715.78 2128.53 L1718.17 2128.55 L1720.57 2128.6 L1722.96 2128.69 L1725.35 2128.81 L1727.74 2128.96 L1730.13 2129.14 L1732.53 2129.34 L1734.92 2129.57 L1737.31 2129.83 L1739.7 2130.1 L1742.09 2130.4 L1744.48 2130.71 L1746.88 2131.04 L1749.27 2131.39 L1751.66 2131.75 L1754.05 2132.12 L1756.44 2132.5 L1758.83 2132.89 L1761.23 2133.29 L1763.62 2133.69 L1766.01 2134.09 L1768.4 2134.5" stroke="#ff0000" stroke-width="2.0" fill="none" stroke-linejoin="round"/>
<circle cx="1248.8" cy="2108.7" r="6.8" fill="#ff0000" stroke="#000" stroke-width="1.8"/>
<circle cx="1306.7" cy="2135.5" r="6.8" fill="#ff0000" stroke="#000" stroke-width="1.8"/>
<circle cx="1364.5" cy="2127.1" r="6.8" fill="#ff0000" stroke="#000" stroke-width="1.8"/>
<circle cx="1422.3" cy="2142.4" r="6.8" fill="#ff0000" stroke="#000" stroke-width="1.8"/>
<circle cx="1480.2" cy="2135" r="6.8" fill="#ff0000" stroke="#000" stroke-width="1.8"/>
<circle cx="1537.5" cy="2139.8" r="6.8" fill="#ff0000" stroke="#000" stroke-width="1.8"/>
<circle cx="1595.3" cy="2129.6" r="6.8" fill="#ff0000" stroke="#000" stroke-width="1.8"/>
<circle cx="1653" cy="2134.5" r="6.8" fill="#ff0000" stroke="#000" stroke-width="1.8"/>
<circle cx="1711" cy="2128.6" r="6.8" fill="#ff0000" stroke="#000" stroke-width="1.8"/>
<circle cx="1768.4" cy="2134.5" r="6.8" fill="#ff0000" stroke="#000" stroke-width="1.8"/>
<path d="M1148.3 1599.6 H1911.6 M1148.3 2147.3 H1911.6 M1148.3 1599.6 V2147.3 M1911.6 1599.6 V2147.3" stroke="#000" stroke-width="2.0" fill="none" stroke-linecap="square"/>
<path d="M1218.6 2147.3 V2156.3 M1295.53 2147.3 V2156.3 M1372.46 2147.3 V2156.3 M1449.39 2147.3 V2156.3 M1526.32 2147.3 V2156.3 M1603.25 2147.3 V2156.3 M1680.18 2147.3 V2156.3 M1757.11 2147.3 V2156.3 M1834.04 2147.3 V2156.3 M1910.97 2147.3 V2156.3 M1139.3 2147.3 H1148.3 M1139.3 2056.02 H1148.3 M1139.3 1964.73 H1148.3 M1139.3 1873.45 H1148.3 M1139.3 1782.17 H1148.3 M1139.3 1690.88 H1148.3 M1139.3 1599.6 H1148.3 M1911.6 2147.3 H1920.6 M1911.6 2010.38 H1920.6 M1911.6 1873.45 H1920.6 M1911.6 1736.53 H1920.6 M1911.6 1599.6 H1920.6" stroke="#000" stroke-width="2.0" fill="none"/>
<polygon points="1236.9,2148.3 1236.9,2145.5 1237.07,2141.07 1237.3,2134.88 1237.58,2127.58 1237.87,2119.83 1238.17,2112.26 1238.45,2105.55 1238.71,2099.69 1238.97,2094.15 1239.23,2088.81 1239.5,2083.53 1239.77,2078.18 1240.05,2072.62 1240.37,2066.44 1240.72,2059.66 1241.08,2052.8 1241.41,2046.41 1241.7,2041 1241.9,2037.1 1244.8,2054 1245.11,2052.71 1245.53,2050.95 1246.04,2048.85 1246.6,2046.55 1247.19,2044.18 1247.8,2041.88 1248.37,2039.63 1248.92,2037.33 1249.5,2034.96 1250.17,2032.51 1250.99,2029.95 1252.02,2027.27 1253.24,2024.5 1254.57,2021.64 1256.06,2018.68 1257.73,2015.6 1259.59,2012.36 1261.68,2008.95 1264.03,2005.33 1266.64,2001.51 1269.44,1997.54 1272.39,1993.46 1275.42,1989.33 1278.47,1985.2 1281.6,1981.01 1284.84,1976.7 1288.16,1972.35 1291.53,1967.99 1294.9,1963.69 1298.22,1959.5 1301.52,1955.43 1304.81,1951.45 1308.11,1947.52 1311.41,1943.61 1314.7,1939.71 1318,1935.77 1321.3,1931.84 1324.6,1927.93 1327.9,1924.02 1331.2,1920.09 1334.5,1916.1 1337.8,1912.03 1341.1,1907.86 1344.4,1903.61 1347.7,1899.32 1351,1894.98 1354.3,1890.64 1357.6,1886.3 1360.9,1881.96 1364.19,1877.58 1367.49,1873.2 1370.79,1868.81 1374.08,1864.44 1377.38,1860.1 1380.67,1855.8 1383.96,1851.53 1387.25,1847.28 1390.54,1843.02 1393.83,1838.74 1397.12,1834.4 1400.65,1829.7 1404.45,1824.59 1408.25,1819.44 1411.77,1814.66 1414.75,1810.62 1416.9,1807.7 1417.22,1811.76 1417.67,1817.27 1418.2,1823.85 1418.77,1831.13 1419.35,1838.72 1419.9,1846.25 1420.41,1853.92 1420.92,1862.07 1421.44,1870.54 1421.97,1879.16 1422.53,1887.77 1423.13,1896.2 1423.74,1904.58 1424.36,1913.09 1425.01,1921.57 1425.71,1929.92 1426.46,1937.99 1427.3,1945.65 1428.19,1952.92 1429.11,1959.92 1430.09,1966.63 1431.16,1973.09 1432.36,1979.28 1433.7,1985.22 1435.18,1990.89 1436.76,1996.27 1438.46,2001.38 1440.3,2006.28 1442.28,2010.98 1444.42,2015.52 1446.75,2019.88 1449.26,2024 1451.91,2027.93 1454.68,2031.71 1457.54,2035.38 1460.45,2038.98 1463.45,2042.48 1466.57,2045.85 1469.78,2049.11 1473.04,2052.27 1476.32,2055.34 1479.57,2058.35 1482.83,2061.28 1486.11,2064.11 1489.41,2066.86 1492.72,2069.53 1496.02,2072.13 1499.33,2074.68 1502.62,2077.15 1505.91,2079.56 1509.21,2081.89 1512.51,2084.16 1515.8,2086.37 1519.1,2088.53 1522.4,2090.62 1525.7,2092.66 1529,2094.63 1532.3,2096.54 1535.6,2098.38 1538.9,2100.15 1542.2,2101.85 1545.5,2103.48 1548.8,2105.03 1552.1,2106.53 1555.4,2107.95 1558.7,2109.3 1562,2110.57 1565.29,2111.76 1568.59,2112.88 1571.89,2113.95 1575.18,2114.98 1578.48,2115.98 1581.77,2116.92 1585.06,2117.79 1588.35,2118.62 1591.64,2119.44 1594.93,2120.28 1598.22,2121.17 1601.52,2122.11 1604.81,2123.06 1608.11,2124.03 1611.41,2125.03 1614.7,2126.05 1618,2127.1 1621.3,2128.2 1624.6,2129.36 1627.9,2130.55 1631.2,2131.74 1634.5,2132.9 1637.8,2134 1641.11,2135.07 1644.42,2136.13 1647.73,2137.16 1651.04,2138.15 1654.33,2139.07 1657.6,2139.93 1660.86,2140.7 1664.11,2141.41 1667.34,2142.06 1670.56,2142.65 1673.75,2143.19 1676.9,2143.68 1680.22,2144.11 1683.75,2144.49 1687.26,2144.82 1690.49,2145.1 1693.22,2145.32 1695.2,2145.5 1695.2,2148.3" fill="#b3b3b3" fill-opacity="0.2235"/>
<polyline points="1236.9,2145.5 1237.07,2141.07 1237.3,2134.88 1237.58,2127.58 1237.87,2119.83 1238.17,2112.26 1238.45,2105.55 1238.71,2099.69 1238.97,2094.15 1239.23,2088.81 1239.5,2083.53 1239.77,2078.18 1240.05,2072.62 1240.37,2066.44 1240.72,2059.66 1241.08,2052.8 1241.41,2046.41 1241.7,2041 1241.9,2037.1 1244.8,2054 1245.11,2052.71 1245.53,2050.95 1246.04,2048.85 1246.6,2046.55 1247.19,2044.18 1247.8,2041.88 1248.37,2039.63 1248.92,2037.33 1249.5,2034.96 1250.17,2032.51 1250.99,2029.95 1252.02,2027.27 1253.24,2024.5 1254.57,2021.64 1256.06,2018.68 1257.73,2015.6 1259.59,2012.36 1261.68,2008.95 1264.03,2005.33 1266.64,2001.51 1269.44,1997.54 1272.39,1993.46 1275.42,1989.33 1278.47,1985.2 1281.6,1981.01 1284.84,1976.7 1288.16,1972.35 1291.53,1967.99 1294.9,1963.69 1298.22,1959.5 1301.52,1955.43 1304.81,1951.45 1308.11,1947.52 1311.41,1943.61 1314.7,1939.71 1318,1935.77 1321.3,1931.84 1324.6,1927.93 1327.9,1924.02 1331.2,1920.09 1334.5,1916.1 1337.8,1912.03 1341.1,1907.86 1344.4,1903.61 1347.7,1899.32 1351,1894.98 1354.3,1890.64 1357.6,1886.3 1360.9,1881.96 1364.19,1877.58 1367.49,1873.2 1370.79,1868.81 1374.08,1864.44 1377.38,1860.1 1380.67,1855.8 1383.96,1851.53 1387.25,1847.28 1390.54,1843.02 1393.83,1838.74 1397.12,1834.4 1400.65,1829.7 1404.45,1824.59 1408.25,1819.44 1411.77,1814.66 1414.75,1810.62 1416.9,1807.7 1417.22,1811.76 1417.67,1817.27 1418.2,1823.85 1418.77,1831.13 1419.35,1838.72 1419.9,1846.25 1420.41,1853.92 1420.92,1862.07 1421.44,1870.54 1421.97,1879.16 1422.53,1887.77 1423.13,1896.2 1423.74,1904.58 1424.36,1913.09 1425.01,1921.57 1425.71,1929.92 1426.46,1937.99 1427.3,1945.65 1428.19,1952.92 1429.11,1959.92 1430.09,1966.63 1431.16,1973.09 1432.36,1979.28 1433.7,1985.22 1435.18,1990.89 1436.76,1996.27 1438.46,2001.38 1440.3,2006.28 1442.28,2010.98 1444.42,2015.52 1446.75,2019.88 1449.26,2024 1451.91,2027.93 1454.68,2031.71 1457.54,2035.38 1460.45,2038.98 1463.45,2042.48 1466.57,2045.85 1469.78,2049.11 1473.04,2052.27 1476.32,2055.34 1479.57,2058.35 1482.83,2061.28 1486.11,2064.11 1489.41,2066.86 1492.72,2069.53 1496.02,2072.13 1499.33,2074.68 1502.62,2077.15 1505.91,2079.56 1509.21,2081.89 1512.51,2084.16 1515.8,2086.37 1519.1,2088.53 1522.4,2090.62 1525.7,2092.66 1529,2094.63 1532.3,2096.54 1535.6,2098.38 1538.9,2100.15 1542.2,2101.85 1545.5,2103.48 1548.8,2105.03 1552.1,2106.53 1555.4,2107.95 1558.7,2109.3 1562,2110.57 1565.29,2111.76 1568.59,2112.88 1571.89,2113.95 1575.18,2114.98 1578.48,2115.98 1581.77,2116.92 1585.06,2117.79 1588.35,2118.62 1591.64,2119.44 1594.93,2120.28 1598.22,2121.17 1601.52,2122.11 1604.81,2123.06 1608.11,2124.03 1611.41,2125.03 1614.7,2126.05 1618,2127.1 1621.3,2128.2 1624.6,2129.36 1627.9,2130.55 1631.2,2131.74 1634.5,2132.9 1637.8,2134 1641.11,2135.07 1644.42,2136.13 1647.73,2137.16 1651.04,2138.15 1654.33,2139.07 1657.6,2139.93 1660.86,2140.7 1664.11,2141.41 1667.34,2142.06 1670.56,2142.65 1673.75,2143.19 1676.9,2143.68 1680.22,2144.11 1683.75,2144.49 1687.26,2144.82 1690.49,2145.1 1693.22,2145.32 1695.2,2145.5" fill="none" stroke="#fff" stroke-width="1.6"/>
<text x="1218.6" y="2184.1" font-size="22" text-anchor="middle">0</text>
<text x="1295.53" y="2184.1" font-size="22" text-anchor="middle">200</text>
<text x="1372.46" y="2184.1" font-size="22" text-anchor="middle">400</text>
<text x="1449.39" y="2184.1" font-size="22" text-anchor="middle">600</text>
<text x="1526.32" y="2184.1" font-size="22" text-anchor="middle">800</text>
<text x="1603.25" y="2184.1" font-size="22" text-anchor="middle">1000</text>
<text x="1680.18" y="2184.1" font-size="22" text-anchor="middle">1200</text>
<text x="1757.11" y="2184.1" font-size="22" text-anchor="middle">1400</text>
<text x="1834.04" y="2184.1" font-size="22" text-anchor="middle">1600</text>
<text x="1910.97" y="2184.1" font-size="22" text-anchor="middle">1800</text>
<text x="1129" y="2154.5" font-size="22" text-anchor="end">0,000</text>
<text x="1129" y="2063.22" font-size="22" text-anchor="end">0,005</text>
<text x="1129" y="1971.93" font-size="22" text-anchor="end">0,010</text>
<text x="1129" y="1880.65" font-size="22" text-anchor="end">0,015</text>
<text x="1129" y="1789.37" font-size="22" text-anchor="end">0,020</text>
<text x="1129" y="1698.08" font-size="22" text-anchor="end">0,025</text>
<text x="1129" y="1606.8" font-size="22" text-anchor="end">0,030</text>
<text x="1929.8" y="2154.5" font-size="22" text-anchor="start">10</text>
<text x="1929.8" y="2017.58" font-size="22" text-anchor="start">15</text>
<text x="1929.8" y="1880.65" font-size="22" text-anchor="start">20</text>
<text x="1929.8" y="1743.73" font-size="22" text-anchor="start">25</text>
<text x="1929.8" y="1606.8" font-size="22" text-anchor="start">30</text>
<text x="1529.7" y="1557.8" font-size="30.4" text-anchor="middle">Control</text>
<text x="1529.4" y="2231.8" font-size="26" text-anchor="middle">t (ms)</text>
<text transform="translate(1043.4 1873.45) rotate(-90)" font-size="27" text-anchor="middle">F<tspan font-size="18" dy="9.6">R/D</tspan></text>
<text transform="translate(1996.6 1873.45) rotate(-90)" font-size="26.5" text-anchor="middle">P<tspan font-size="17" dy="9.3">TRACH</tspan><tspan dy="-9.3" dx="0">(cmH</tspan><tspan font-size="17" dy="9.3">2</tspan><tspan dy="-9.3">O)</tspan></text>
<rect x="1746.9" y="1610.3" width="153.5" height="119.7" fill="#fff" stroke="#000" stroke-width="2"/>
<path d="M1761.9 1640.9 H1811.9" stroke="#00ff00" stroke-width="2.0"/>
<polygon points="1786.9,1633.43 1780.6,1644.63 1793.2,1644.63" fill="#00ff00" stroke="#000" stroke-width="1.8"/>
<text x="1821.3" y="1645.1" font-size="22.3">F<tspan font-size="14.3" dy="6.3">R</tspan></text>
<path d="M1761.9 1671.5 H1811.9" stroke="#ff0000" stroke-width="2.0"/>
<circle cx="1786.9" cy="1671.5" r="6.8" fill="#ff0000" stroke="#000" stroke-width="1.8"/>
<text x="1821.3" y="1675.7" font-size="22.3">F<tspan font-size="14.3" dy="6.3">D</tspan></text>
<rect x="1763.1" y="1696.6" width="47.6" height="14.6" fill="#b3b3b3" fill-opacity="0.2235"/>
<text x="1821.3" y="1706.1" font-size="22.3">P<tspan font-size="14.3" dy="6.3">TRACH</tspan></text>
</svg>
</body></html>
